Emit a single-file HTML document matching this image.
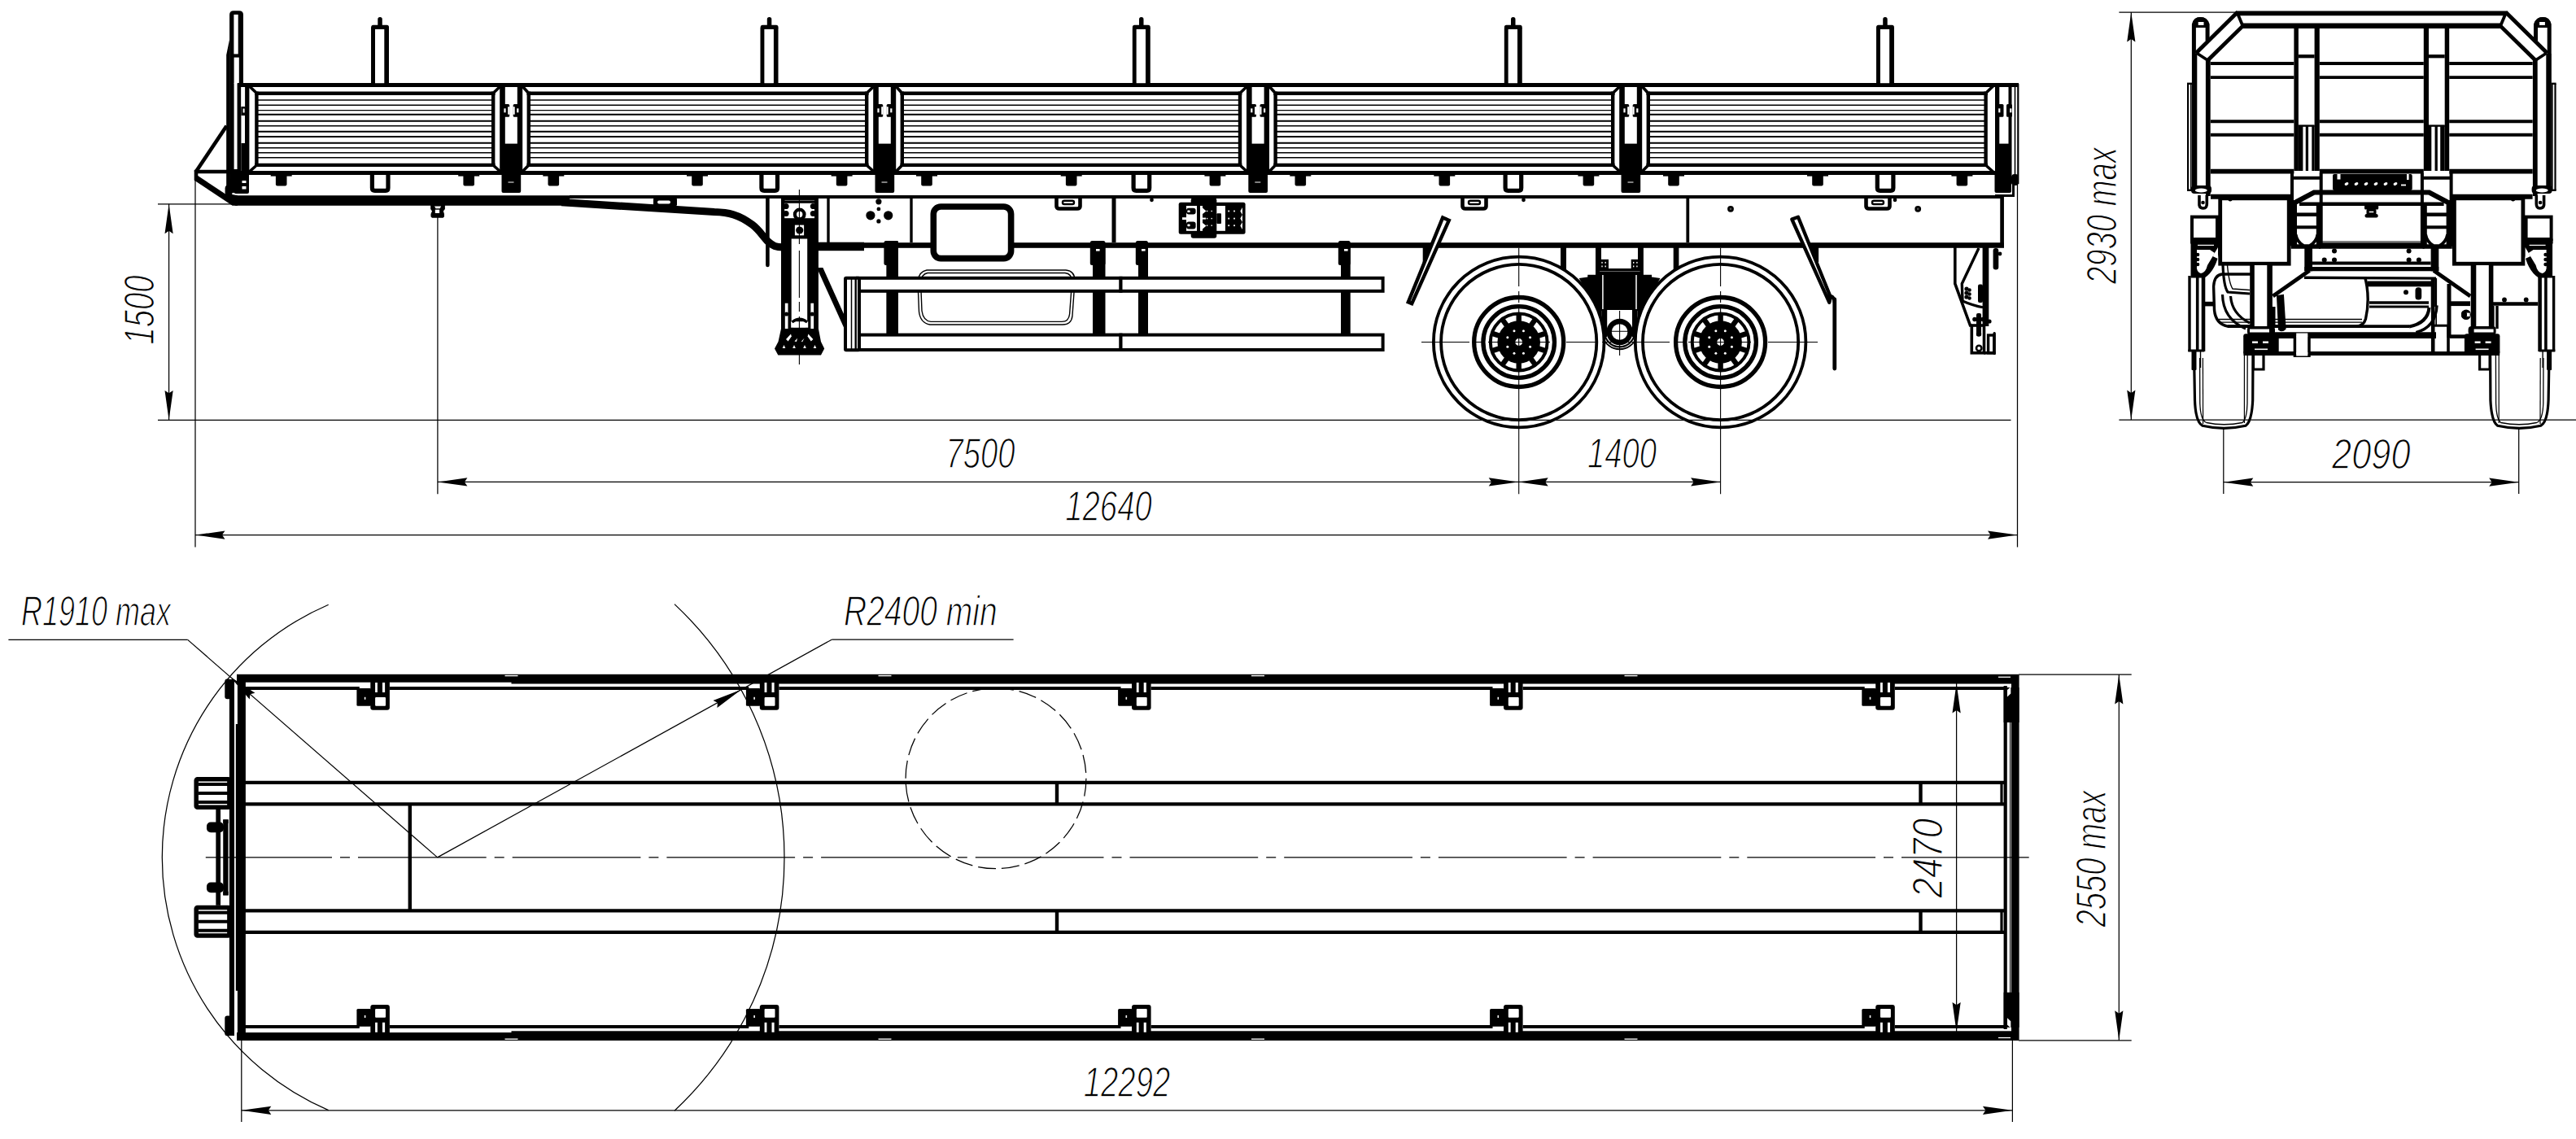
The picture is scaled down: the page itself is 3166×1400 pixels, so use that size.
<!DOCTYPE html>
<html><head><meta charset="utf-8"><title>Semi-trailer drawing</title>
<style>
html,body{margin:0;padding:0;background:#fff;}
body{width:3166px;height:1400px;overflow:hidden;}
svg{display:block;}
svg text{font-family:"Liberation Sans",sans-serif;font-style:italic;fill:#000;stroke:#fff;stroke-width:1.3px;}
</style></head><body>
<svg width="3166" height="1400" viewBox="0 0 3166 1400" fill="none" stroke="#000" stroke-linecap="butt" stroke-linejoin="miter">
<rect x="0" y="0" width="3166" height="1400" fill="#fff" stroke="none"/>
<g id="side">
<path d="M282.1,237 L282.1,18 Q282.1,13.2 287,13.2 L294,13.2 Q299,13.2 299,18 L299,104 L296,104 L296,237 Z" stroke-width="0" fill="#000" stroke="none"/>
<path d="M282.1,48.5 L278.2,67.4 L278.2,237 L283,237 Z" stroke-width="0" fill="#000" stroke="none"/>
<rect x="287.4" y="17.9" width="5.3" height="48.5" fill="#fff" stroke="none"/>
<rect x="287.6" y="70.6" width="6.2" height="32" fill="#fff" stroke="none"/>
<rect x="287.6" y="102" width="4.2" height="106" fill="#fff" stroke="none"/>
<rect x="291.7" y="102.2" width="4.7" height="133.8" fill="#000" stroke="none" rx="0"/>
<rect x="301" y="104" width="5.4" height="110" fill="#000" stroke="none" rx="0"/>
<rect x="296.4" y="106.8" width="4.7" height="25" fill="#fff" stroke="none"/>
<rect x="296.4" y="131" width="4.6" height="11" fill="#000" stroke="none" rx="0"/>
<rect x="298.6" y="133.5" width="2" height="5" fill="#fff" stroke="none"/>
<rect x="296.4" y="176" width="4.6" height="38" fill="#000" stroke="none" rx="0"/>
<rect x="287.7" y="210" width="18.3" height="28" fill="#000" stroke="none" rx="2"/>
<rect x="297.5" y="222" width="5" height="3" fill="#fff" stroke="none"/>
<rect x="297.5" y="229" width="5" height="3.5" fill="#fff" stroke="none"/>
<rect x="276.6" y="227.5" width="8.9" height="13.5" fill="#000" stroke="none" rx="4"/>
<line x1="278.5" y1="154.8" x2="240.5" y2="211.5" stroke-width="4.6" />
<line x1="239" y1="211" x2="283" y2="211" stroke-width="4.6" />
<line x1="241" y1="209" x2="241" y2="221" stroke-width="4.6" />
<line x1="240.5" y1="218.5" x2="288" y2="250" stroke-width="7" />
<polygon points="277,237.5 292,240.2 292,252.8 286.5,252.8" stroke-width="0" fill="#000" stroke="none"/>
<path d="M284,240.2 L700,240.2 L700,252.8 L289,252.8 Z" stroke-width="0" fill="#000" stroke="none"/>
<line x1="700" y1="242.1" x2="2462" y2="242.1" stroke-width="4" />
<path d="M690,248.7 L878,260.5 C895,261 908,263.5 924.6,276.2 C933,282.5 938,291 944,297 C950,302.5 954,303.9 962,303.9" stroke-width="9.2" fill="none" />
<line x1="292" y1="104.5" x2="2481" y2="104.5" stroke-width="4.8" />
<line x1="306" y1="212.5" x2="2452" y2="212.5" stroke-width="4.8" />
<line x1="313.1" y1="114.7" x2="608.5" y2="114.7" stroke-width="4.5" />
<line x1="313.1" y1="202.8" x2="608.5" y2="202.8" stroke-width="4.2" />
<line x1="315.4" y1="112.5" x2="315.4" y2="205" stroke-width="4.4" />
<line x1="606.2" y1="112.5" x2="606.2" y2="205" stroke-width="4.4" />
<line x1="306.5" y1="106" x2="314.4" y2="113.5" stroke-width="3.6" />
<line x1="306.5" y1="211" x2="314.4" y2="204" stroke-width="3.6" />
<line x1="615" y1="106" x2="607.2" y2="113.5" stroke-width="3.6" />
<line x1="615" y1="211" x2="607.2" y2="204" stroke-width="3.6" />
<line x1="315.4" y1="123" x2="606.2" y2="123" stroke-width="1.4" />
<line x1="315.4" y1="129.3" x2="606.2" y2="129.3" stroke-width="1.4" />
<line x1="315.4" y1="135.6" x2="606.2" y2="135.6" stroke-width="1.4" />
<line x1="315.4" y1="140.8" x2="606.2" y2="140.8" stroke-width="1.9" />
<line x1="315.4" y1="148.8" x2="606.2" y2="148.8" stroke-width="1.9" />
<line x1="315.4" y1="154.8" x2="606.2" y2="154.8" stroke-width="1.5" />
<line x1="315.4" y1="161.8" x2="606.2" y2="161.8" stroke-width="1.9" />
<line x1="315.4" y1="168" x2="606.2" y2="168" stroke-width="1.9" />
<line x1="315.4" y1="175.7" x2="606.2" y2="175.7" stroke-width="1.9" />
<line x1="315.4" y1="181.7" x2="606.2" y2="181.7" stroke-width="1.5" />
<line x1="315.4" y1="187.8" x2="606.2" y2="187.8" stroke-width="1.5" />
<line x1="315.4" y1="193.8" x2="606.2" y2="193.8" stroke-width="1.5" />
<line x1="647.5" y1="114.7" x2="1067.5" y2="114.7" stroke-width="4.5" />
<line x1="647.5" y1="202.8" x2="1067.5" y2="202.8" stroke-width="4.2" />
<line x1="649.8" y1="112.5" x2="649.8" y2="205" stroke-width="4.4" />
<line x1="1065.2" y1="112.5" x2="1065.2" y2="205" stroke-width="4.4" />
<line x1="642" y1="106" x2="648.8" y2="113.5" stroke-width="3.6" />
<line x1="642" y1="211" x2="648.8" y2="204" stroke-width="3.6" />
<line x1="1074" y1="106" x2="1066.2" y2="113.5" stroke-width="3.6" />
<line x1="1074" y1="211" x2="1066.2" y2="204" stroke-width="3.6" />
<line x1="649.8" y1="123" x2="1065.2" y2="123" stroke-width="1.4" />
<line x1="649.8" y1="129.3" x2="1065.2" y2="129.3" stroke-width="1.4" />
<line x1="649.8" y1="135.6" x2="1065.2" y2="135.6" stroke-width="1.4" />
<line x1="649.8" y1="140.8" x2="1065.2" y2="140.8" stroke-width="1.9" />
<line x1="649.8" y1="148.8" x2="1065.2" y2="148.8" stroke-width="1.9" />
<line x1="649.8" y1="154.8" x2="1065.2" y2="154.8" stroke-width="1.5" />
<line x1="649.8" y1="161.8" x2="1065.2" y2="161.8" stroke-width="1.9" />
<line x1="649.8" y1="168" x2="1065.2" y2="168" stroke-width="1.9" />
<line x1="649.8" y1="175.7" x2="1065.2" y2="175.7" stroke-width="1.9" />
<line x1="649.8" y1="181.7" x2="1065.2" y2="181.7" stroke-width="1.5" />
<line x1="649.8" y1="187.8" x2="1065.2" y2="187.8" stroke-width="1.5" />
<line x1="649.8" y1="193.8" x2="1065.2" y2="193.8" stroke-width="1.5" />
<line x1="1106.5" y1="114.7" x2="1526.3" y2="114.7" stroke-width="4.5" />
<line x1="1106.5" y1="202.8" x2="1526.3" y2="202.8" stroke-width="4.2" />
<line x1="1108.8" y1="112.5" x2="1108.8" y2="205" stroke-width="4.4" />
<line x1="1524" y1="112.5" x2="1524" y2="205" stroke-width="4.4" />
<line x1="1101" y1="106" x2="1107.8" y2="113.5" stroke-width="3.6" />
<line x1="1101" y1="211" x2="1107.8" y2="204" stroke-width="3.6" />
<line x1="1532.8" y1="106" x2="1525" y2="113.5" stroke-width="3.6" />
<line x1="1532.8" y1="211" x2="1525" y2="204" stroke-width="3.6" />
<line x1="1108.8" y1="123" x2="1524" y2="123" stroke-width="1.4" />
<line x1="1108.8" y1="129.3" x2="1524" y2="129.3" stroke-width="1.4" />
<line x1="1108.8" y1="135.6" x2="1524" y2="135.6" stroke-width="1.4" />
<line x1="1108.8" y1="140.8" x2="1524" y2="140.8" stroke-width="1.9" />
<line x1="1108.8" y1="148.8" x2="1524" y2="148.8" stroke-width="1.9" />
<line x1="1108.8" y1="154.8" x2="1524" y2="154.8" stroke-width="1.5" />
<line x1="1108.8" y1="161.8" x2="1524" y2="161.8" stroke-width="1.9" />
<line x1="1108.8" y1="168" x2="1524" y2="168" stroke-width="1.9" />
<line x1="1108.8" y1="175.7" x2="1524" y2="175.7" stroke-width="1.9" />
<line x1="1108.8" y1="181.7" x2="1524" y2="181.7" stroke-width="1.5" />
<line x1="1108.8" y1="187.8" x2="1524" y2="187.8" stroke-width="1.5" />
<line x1="1108.8" y1="193.8" x2="1524" y2="193.8" stroke-width="1.5" />
<line x1="1565.3" y1="114.7" x2="1984.5" y2="114.7" stroke-width="4.5" />
<line x1="1565.3" y1="202.8" x2="1984.5" y2="202.8" stroke-width="4.2" />
<line x1="1567.6" y1="112.5" x2="1567.6" y2="205" stroke-width="4.4" />
<line x1="1982.2" y1="112.5" x2="1982.2" y2="205" stroke-width="4.4" />
<line x1="1559.8" y1="106" x2="1566.6" y2="113.5" stroke-width="3.6" />
<line x1="1559.8" y1="211" x2="1566.6" y2="204" stroke-width="3.6" />
<line x1="1991" y1="106" x2="1983.2" y2="113.5" stroke-width="3.6" />
<line x1="1991" y1="211" x2="1983.2" y2="204" stroke-width="3.6" />
<line x1="1567.6" y1="123" x2="1982.2" y2="123" stroke-width="1.4" />
<line x1="1567.6" y1="129.3" x2="1982.2" y2="129.3" stroke-width="1.4" />
<line x1="1567.6" y1="135.6" x2="1982.2" y2="135.6" stroke-width="1.4" />
<line x1="1567.6" y1="140.8" x2="1982.2" y2="140.8" stroke-width="1.9" />
<line x1="1567.6" y1="148.8" x2="1982.2" y2="148.8" stroke-width="1.9" />
<line x1="1567.6" y1="154.8" x2="1982.2" y2="154.8" stroke-width="1.5" />
<line x1="1567.6" y1="161.8" x2="1982.2" y2="161.8" stroke-width="1.9" />
<line x1="1567.6" y1="168" x2="1982.2" y2="168" stroke-width="1.9" />
<line x1="1567.6" y1="175.7" x2="1982.2" y2="175.7" stroke-width="1.9" />
<line x1="1567.6" y1="181.7" x2="1982.2" y2="181.7" stroke-width="1.5" />
<line x1="1567.6" y1="187.8" x2="1982.2" y2="187.8" stroke-width="1.5" />
<line x1="1567.6" y1="193.8" x2="1982.2" y2="193.8" stroke-width="1.5" />
<line x1="2023.5" y1="114.7" x2="2442.9" y2="114.7" stroke-width="4.5" />
<line x1="2023.5" y1="202.8" x2="2442.9" y2="202.8" stroke-width="4.2" />
<line x1="2025.8" y1="112.5" x2="2025.8" y2="205" stroke-width="4.4" />
<line x1="2440.6" y1="112.5" x2="2440.6" y2="205" stroke-width="4.4" />
<line x1="2018" y1="106" x2="2024.8" y2="113.5" stroke-width="3.6" />
<line x1="2018" y1="211" x2="2024.8" y2="204" stroke-width="3.6" />
<line x1="2449.5" y1="106" x2="2441.6" y2="113.5" stroke-width="3.6" />
<line x1="2449.5" y1="211" x2="2441.6" y2="204" stroke-width="3.6" />
<line x1="2025.8" y1="123" x2="2440.6" y2="123" stroke-width="1.4" />
<line x1="2025.8" y1="129.3" x2="2440.6" y2="129.3" stroke-width="1.4" />
<line x1="2025.8" y1="135.6" x2="2440.6" y2="135.6" stroke-width="1.4" />
<line x1="2025.8" y1="140.8" x2="2440.6" y2="140.8" stroke-width="1.9" />
<line x1="2025.8" y1="148.8" x2="2440.6" y2="148.8" stroke-width="1.9" />
<line x1="2025.8" y1="154.8" x2="2440.6" y2="154.8" stroke-width="1.5" />
<line x1="2025.8" y1="161.8" x2="2440.6" y2="161.8" stroke-width="1.9" />
<line x1="2025.8" y1="168" x2="2440.6" y2="168" stroke-width="1.9" />
<line x1="2025.8" y1="175.7" x2="2440.6" y2="175.7" stroke-width="1.9" />
<line x1="2025.8" y1="181.7" x2="2440.6" y2="181.7" stroke-width="1.5" />
<line x1="2025.8" y1="187.8" x2="2440.6" y2="187.8" stroke-width="1.5" />
<line x1="2025.8" y1="193.8" x2="2440.6" y2="193.8" stroke-width="1.5" />
<rect x="614.2" y="104" width="6.6" height="110" fill="#000" stroke="none" rx="0"/>
<rect x="635.8" y="104" width="6.4" height="110" fill="#000" stroke="none" rx="0"/>
<rect x="618.2" y="128" width="8" height="15.7" fill="#000" stroke="none" rx="1.5"/>
<rect x="630.7" y="128" width="8.2" height="15.7" fill="#000" stroke="none" rx="1.5"/>
<rect x="619.4" y="133.3" width="2.2" height="5" fill="#fff" stroke="none"/>
<rect x="635.2" y="133.3" width="2.2" height="5" fill="#fff" stroke="none"/>
<rect x="624.2" y="131.2" width="2.2" height="9.5" fill="#fff" stroke="none"/>
<rect x="630.5" y="131.2" width="2.2" height="9.5" fill="#fff" stroke="none"/>
<rect x="617.2" y="176.6" width="22" height="37.4" fill="#000" stroke="none" rx="0"/>
<rect x="616.5" y="212" width="23.7" height="25" fill="#000" stroke="none" rx="2"/>
<rect x="624.5" y="223.5" width="7" height="1" fill="#fff" stroke="none"/>
<rect x="1073.2" y="104" width="6.6" height="110" fill="#000" stroke="none" rx="0"/>
<rect x="1094.8" y="104" width="6.4" height="110" fill="#000" stroke="none" rx="0"/>
<rect x="1077.2" y="128" width="8" height="15.7" fill="#000" stroke="none" rx="1.5"/>
<rect x="1089.7" y="128" width="8.2" height="15.7" fill="#000" stroke="none" rx="1.5"/>
<rect x="1078.4" y="133.3" width="2.2" height="5" fill="#fff" stroke="none"/>
<rect x="1094.2" y="133.3" width="2.2" height="5" fill="#fff" stroke="none"/>
<rect x="1083.2" y="131.2" width="2.2" height="9.5" fill="#fff" stroke="none"/>
<rect x="1089.5" y="131.2" width="2.2" height="9.5" fill="#fff" stroke="none"/>
<rect x="1076.2" y="176.6" width="22" height="37.4" fill="#000" stroke="none" rx="0"/>
<rect x="1075.5" y="212" width="23.7" height="25" fill="#000" stroke="none" rx="2"/>
<rect x="1083.5" y="223.5" width="7" height="1" fill="#fff" stroke="none"/>
<rect x="1532" y="104" width="6.6" height="110" fill="#000" stroke="none" rx="0"/>
<rect x="1553.6" y="104" width="6.4" height="110" fill="#000" stroke="none" rx="0"/>
<rect x="1536" y="128" width="8" height="15.7" fill="#000" stroke="none" rx="1.5"/>
<rect x="1548.5" y="128" width="8.2" height="15.7" fill="#000" stroke="none" rx="1.5"/>
<rect x="1537.2" y="133.3" width="2.2" height="5" fill="#fff" stroke="none"/>
<rect x="1553" y="133.3" width="2.2" height="5" fill="#fff" stroke="none"/>
<rect x="1542" y="131.2" width="2.2" height="9.5" fill="#fff" stroke="none"/>
<rect x="1548.3" y="131.2" width="2.2" height="9.5" fill="#fff" stroke="none"/>
<rect x="1535" y="176.6" width="22" height="37.4" fill="#000" stroke="none" rx="0"/>
<rect x="1534.3" y="212" width="23.7" height="25" fill="#000" stroke="none" rx="2"/>
<rect x="1542.3" y="223.5" width="7" height="1" fill="#fff" stroke="none"/>
<rect x="1990.2" y="104" width="6.6" height="110" fill="#000" stroke="none" rx="0"/>
<rect x="2011.8" y="104" width="6.4" height="110" fill="#000" stroke="none" rx="0"/>
<rect x="1994.2" y="128" width="8" height="15.7" fill="#000" stroke="none" rx="1.5"/>
<rect x="2006.7" y="128" width="8.2" height="15.7" fill="#000" stroke="none" rx="1.5"/>
<rect x="1995.4" y="133.3" width="2.2" height="5" fill="#fff" stroke="none"/>
<rect x="2011.2" y="133.3" width="2.2" height="5" fill="#fff" stroke="none"/>
<rect x="2000.2" y="131.2" width="2.2" height="9.5" fill="#fff" stroke="none"/>
<rect x="2006.5" y="131.2" width="2.2" height="9.5" fill="#fff" stroke="none"/>
<rect x="1993.2" y="176.6" width="22" height="37.4" fill="#000" stroke="none" rx="0"/>
<rect x="1992.5" y="212" width="23.7" height="25" fill="#000" stroke="none" rx="2"/>
<rect x="2000.5" y="223.5" width="7" height="1" fill="#fff" stroke="none"/>
<rect x="2452" y="104" width="5.3" height="110" fill="#000" stroke="none" rx="0"/>
<rect x="2468.5" y="104" width="4" height="122" fill="#000" stroke="none" rx="0"/>
<line x1="2476.5" y1="104" x2="2476.5" y2="226" stroke-width="1.6" />
<line x1="2480.3" y1="103" x2="2480.3" y2="226" stroke-width="2.2" />
<rect x="2455" y="128" width="7.5" height="15.7" fill="#000" stroke="none" rx="1.5"/>
<rect x="2466" y="128" width="7" height="15.7" fill="#000" stroke="none" rx="1.5"/>
<rect x="2456.2" y="133.3" width="2.2" height="5" fill="#fff" stroke="none"/>
<rect x="2470.2" y="133.3" width="2.2" height="5" fill="#fff" stroke="none"/>
<rect x="2455" y="176.6" width="15" height="37.4" fill="#000" stroke="none" rx="0"/>
<rect x="2451.5" y="212" width="20.5" height="25" fill="#000" stroke="none" rx="2"/>
<rect x="2472" y="214" width="9" height="14" fill="#000" stroke="none" rx="4"/>
<line x1="2452" y1="240.5" x2="2476" y2="240.5" stroke-width="3" />
<line x1="2474.5" y1="226" x2="2474.5" y2="242" stroke-width="3" />
<path d="M458.6,103 L458.6,35 Q458.6,33.3 460.7,33.3 L473,33.3 Q475.1,33.3 475.1,35 L475.1,103" stroke-width="4.8" fill="none" />
<rect x="456.2" y="30.8" width="21.8" height="5.2" fill="#000" stroke="none" rx="2.5"/>
<rect x="456.2" y="34" width="4.8" height="69" fill="#000" stroke="none" rx="0"/>
<rect x="472.2" y="34" width="5.8" height="69" fill="#000" stroke="none" rx="0"/>
<rect x="461" y="35.9" width="11.2" height="66.3" fill="#fff" stroke="none"/>
<rect x="464.3" y="21.1" width="5.5" height="11.9" fill="#000" stroke="none" rx="2.7"/>
<path d="M457.4,214 L457.4,231 Q457.4,234.3 460.7,234.3 L474,234.3 Q477,234.3 477,231 L477,214" stroke-width="5.2" fill="none" />
<path d="M937.1,103 L937.1,35 Q937.1,33.3 939.2,33.3 L951.5,33.3 Q953.6,33.3 953.6,35 L953.6,103" stroke-width="4.8" fill="none" />
<rect x="934.7" y="30.8" width="21.8" height="5.2" fill="#000" stroke="none" rx="2.5"/>
<rect x="934.7" y="34" width="4.8" height="69" fill="#000" stroke="none" rx="0"/>
<rect x="950.7" y="34" width="5.8" height="69" fill="#000" stroke="none" rx="0"/>
<rect x="939.5" y="35.9" width="11.2" height="66.3" fill="#fff" stroke="none"/>
<rect x="942.8" y="21.1" width="5.5" height="11.9" fill="#000" stroke="none" rx="2.7"/>
<path d="M935.9,214 L935.9,231 Q935.9,234.3 939.2,234.3 L952.5,234.3 Q955.5,234.3 955.5,231 L955.5,214" stroke-width="5.2" fill="none" />
<path d="M1394.3,103 L1394.3,35 Q1394.3,33.3 1396.4,33.3 L1408.7,33.3 Q1410.8,33.3 1410.8,35 L1410.8,103" stroke-width="4.8" fill="none" />
<rect x="1391.9" y="30.8" width="21.8" height="5.2" fill="#000" stroke="none" rx="2.5"/>
<rect x="1391.9" y="34" width="4.8" height="69" fill="#000" stroke="none" rx="0"/>
<rect x="1407.9" y="34" width="5.8" height="69" fill="#000" stroke="none" rx="0"/>
<rect x="1396.7" y="35.9" width="11.2" height="66.3" fill="#fff" stroke="none"/>
<rect x="1400" y="21.1" width="5.5" height="11.9" fill="#000" stroke="none" rx="2.7"/>
<path d="M1393.1,214 L1393.1,231 Q1393.1,234.3 1396.4,234.3 L1409.7,234.3 Q1412.7,234.3 1412.7,231 L1412.7,214" stroke-width="5.2" fill="none" />
<path d="M1851.3,103 L1851.3,35 Q1851.3,33.3 1853.4,33.3 L1865.7,33.3 Q1867.8,33.3 1867.8,35 L1867.8,103" stroke-width="4.8" fill="none" />
<rect x="1848.9" y="30.8" width="21.8" height="5.2" fill="#000" stroke="none" rx="2.5"/>
<rect x="1848.9" y="34" width="4.8" height="69" fill="#000" stroke="none" rx="0"/>
<rect x="1864.9" y="34" width="5.8" height="69" fill="#000" stroke="none" rx="0"/>
<rect x="1853.7" y="35.9" width="11.2" height="66.3" fill="#fff" stroke="none"/>
<rect x="1857" y="21.1" width="5.5" height="11.9" fill="#000" stroke="none" rx="2.7"/>
<path d="M1850.1,214 L1850.1,231 Q1850.1,234.3 1853.4,234.3 L1866.7,234.3 Q1869.7,234.3 1869.7,231 L1869.7,214" stroke-width="5.2" fill="none" />
<path d="M2308.5,103 L2308.5,35 Q2308.5,33.3 2310.6,33.3 L2322.9,33.3 Q2325,33.3 2325,35 L2325,103" stroke-width="4.8" fill="none" />
<rect x="2306.1" y="30.8" width="21.8" height="5.2" fill="#000" stroke="none" rx="2.5"/>
<rect x="2306.1" y="34" width="4.8" height="69" fill="#000" stroke="none" rx="0"/>
<rect x="2322.1" y="34" width="5.8" height="69" fill="#000" stroke="none" rx="0"/>
<rect x="2310.9" y="35.9" width="11.2" height="66.3" fill="#fff" stroke="none"/>
<rect x="2314.2" y="21.1" width="5.5" height="11.9" fill="#000" stroke="none" rx="2.7"/>
<path d="M2307.3,214 L2307.3,231 Q2307.3,234.3 2310.6,234.3 L2323.9,234.3 Q2326.9,234.3 2326.9,231 L2326.9,214" stroke-width="5.2" fill="none" />
<rect x="338.9" y="214" width="13.6" height="14.6" fill="#000" stroke="none" rx="2"/>
<line x1="332.7" y1="215.8" x2="358.7" y2="215.8" stroke-width="1.6" />
<rect x="569.4" y="214" width="13.6" height="14.6" fill="#000" stroke="none" rx="2"/>
<line x1="563.2" y1="215.8" x2="589.2" y2="215.8" stroke-width="1.6" />
<rect x="673.5" y="214" width="13.6" height="14.6" fill="#000" stroke="none" rx="2"/>
<line x1="667.3" y1="215.8" x2="693.3" y2="215.8" stroke-width="1.6" />
<rect x="850.2" y="214" width="13.6" height="14.6" fill="#000" stroke="none" rx="2"/>
<line x1="844" y1="215.8" x2="870" y2="215.8" stroke-width="1.6" />
<rect x="1027.8" y="214" width="13.6" height="14.6" fill="#000" stroke="none" rx="2"/>
<line x1="1021.6" y1="215.8" x2="1047.6" y2="215.8" stroke-width="1.6" />
<rect x="1132.2" y="214" width="13.6" height="14.6" fill="#000" stroke="none" rx="2"/>
<line x1="1126" y1="215.8" x2="1152" y2="215.8" stroke-width="1.6" />
<rect x="1309.9" y="214" width="13.6" height="14.6" fill="#000" stroke="none" rx="2"/>
<line x1="1303.7" y1="215.8" x2="1329.7" y2="215.8" stroke-width="1.6" />
<rect x="1486.6" y="214" width="13.6" height="14.6" fill="#000" stroke="none" rx="2"/>
<line x1="1480.4" y1="215.8" x2="1506.4" y2="215.8" stroke-width="1.6" />
<rect x="1591.5" y="214" width="13.6" height="14.6" fill="#000" stroke="none" rx="2"/>
<line x1="1585.3" y1="215.8" x2="1611.3" y2="215.8" stroke-width="1.6" />
<rect x="1768.5" y="214" width="13.6" height="14.6" fill="#000" stroke="none" rx="2"/>
<line x1="1762.3" y1="215.8" x2="1788.3" y2="215.8" stroke-width="1.6" />
<rect x="1945.6" y="214" width="13.6" height="14.6" fill="#000" stroke="none" rx="2"/>
<line x1="1939.4" y1="215.8" x2="1965.4" y2="215.8" stroke-width="1.6" />
<rect x="2050.2" y="214" width="13.6" height="14.6" fill="#000" stroke="none" rx="2"/>
<line x1="2044" y1="215.8" x2="2070" y2="215.8" stroke-width="1.6" />
<rect x="2227.2" y="214" width="13.6" height="14.6" fill="#000" stroke="none" rx="2"/>
<line x1="2221" y1="215.8" x2="2247" y2="215.8" stroke-width="1.6" />
<rect x="2404.6" y="214" width="13.6" height="14.6" fill="#000" stroke="none" rx="2"/>
<line x1="2398.4" y1="215.8" x2="2424.4" y2="215.8" stroke-width="1.6" />
</g>
<g id="side-lower">
<line x1="943.4" y1="244" x2="943.4" y2="326" stroke-width="4.6" stroke-linecap="round"/>
<line x1="1018" y1="244" x2="1018" y2="298" stroke-width="3.4" />
<line x1="1120" y1="244" x2="1120" y2="298" stroke-width="3.4" />
<line x1="1369" y1="244" x2="1369" y2="298" stroke-width="5" />
<line x1="2074.3" y1="244" x2="2074.3" y2="298" stroke-width="3.8" />
<line x1="2460.6" y1="240" x2="2460.6" y2="304" stroke-width="4.7" />
<rect x="1005" y="297.7" width="57" height="10.5" fill="#000" stroke="none" rx="0"/>
<rect x="1062" y="298.2" width="1401" height="6.6" fill="#000" stroke="none" rx="0"/>
<circle cx="1079.9" cy="256.9" r="2.4" stroke-width="0" fill="#000" stroke="none"/>
<circle cx="1079.9" cy="271.9" r="2.6" stroke-width="0" fill="#000" stroke="none"/>
<circle cx="1079.9" cy="247.8" r="3.6" stroke-width="0" fill="#000" stroke="none"/>
<circle cx="1069.9" cy="264.8" r="5.6" stroke-width="0" fill="#000" stroke="none"/>
<circle cx="1091.7" cy="264.8" r="5.6" stroke-width="0" fill="#000" stroke="none"/>
<polygon points="529.2,252 546.9,252 546.9,257 544.9,259.5 546,263 546,266.2 544.5,267.7 531,267.7 529.5,266.2 529.5,263 531,259.5 529.2,257" stroke-width="0" fill="#000" stroke="none"/>
<polygon points="534,253.6 542.2,253.6 540.6,256.2 535.6,256.2" stroke-width="0" fill="#fff" stroke="none"/>
<rect x="534.8" y="257.7" width="5.3" height="4.3" fill="#fff" stroke="none"/>
<rect x="803" y="243" width="29" height="10.5" fill="#000" stroke="none" rx="2"/>
<rect x="808" y="246.6" width="16" height="4" fill="#fff" stroke="none" rx="2"/>
<path d="M1298.5,244 L1298.5,253 Q1298.5,256.5 1302,256.5 L1324,256.5 Q1327.5,256.5 1327.5,253 L1327.5,244" stroke-width="4.6" fill="#fff" />
<rect x="1306" y="246.8" width="14" height="4.2" rx="2" fill="#fff" stroke="#000" stroke-width="2.4"/>
<path d="M1797.5,244 L1797.5,253 Q1797.5,256.5 1801,256.5 L1823,256.5 Q1826.5,256.5 1826.5,253 L1826.5,244" stroke-width="4.6" fill="#fff" />
<rect x="1805" y="246.8" width="14" height="4.2" rx="2" fill="#fff" stroke="#000" stroke-width="2.4"/>
<path d="M2293.5,244 L2293.5,253 Q2293.5,256.5 2297,256.5 L2319,256.5 Q2322.5,256.5 2322.5,253 L2322.5,244" stroke-width="4.6" fill="#fff" />
<rect x="2301" y="246.8" width="14" height="4.2" rx="2" fill="#fff" stroke="#000" stroke-width="2.4"/>
<circle cx="1415.5" cy="245.8" r="2.4" stroke-width="0" fill="#000" stroke="none"/>
<circle cx="1872.5" cy="245.8" r="2.4" stroke-width="0" fill="#000" stroke="none"/>
<circle cx="2329" cy="245.8" r="2.4" stroke-width="0" fill="#000" stroke="none"/>
<circle cx="2127" cy="256.8" r="2.6" stroke-width="2.6" fill="#555" />
<circle cx="2357.2" cy="256.8" r="2.6" stroke-width="2.6" fill="#555" />
<rect x="960" y="244" width="45.9" height="166" fill="#000" stroke="none" rx="0"/>
<rect x="964.2" y="249.8" width="36.8" height="18.4" fill="#fff" stroke="none"/>
<line x1="964.5" y1="246.4" x2="1001" y2="246.4" stroke-width="0.9" stroke="#777"/>
<circle cx="966" cy="253.5" r="3.6" stroke-width="0" fill="#000" stroke="none"/>
<circle cx="999.4" cy="253.5" r="3.6" stroke-width="0" fill="#000" stroke="none"/>
<circle cx="966" cy="262.5" r="3.6" stroke-width="0" fill="#000" stroke="none"/>
<circle cx="999.4" cy="262.5" r="3.6" stroke-width="0" fill="#000" stroke="none"/>
<circle cx="982.7" cy="263.5" r="5.8" stroke-width="4.2" fill="#fff" />
<rect x="976.9" y="276.6" width="11.2" height="12.7" fill="#fff" stroke="none"/>
<circle cx="982.7" cy="283" r="4.6" stroke-width="0" fill="#000" stroke="none"/>
<rect x="972.7" y="293.5" width="19.5" height="110" fill="#fff" stroke="none"/>
<rect x="964.8" y="372.7" width="3.7" height="35" fill="#fff" stroke="none"/>
<circle cx="966.6" cy="386" r="2.6" stroke-width="0" fill="#000" stroke="none"/>
<rect x="996.4" y="372.7" width="3.7" height="35" fill="#fff" stroke="none"/>
<circle cx="998.2" cy="386" r="2.6" stroke-width="0" fill="#000" stroke="none"/>
<path d="M972,404 Q982.7,386 993.4,404 Z" stroke-width="3.4" fill="none" />
<path d="M960,404 L1005.9,404 L1009,420 L1013.2,428.5 L1009,436.4 L956.3,436.4 L952,428.5 L956.5,420 Z" stroke-width="0" fill="#000" stroke="none"/>
<rect x="972.2" y="395.2" width="21" height="7.5" fill="#fff" stroke="none"/>
<path d="M973.5,396 Q982.7,388.5 992,396" stroke-width="3.2" fill="none" />
<polygon points="966,417 972,410.5 972.8,413.5 968.6,419.5" stroke-width="0" fill="#fff" stroke="none"/>
<polygon points="999.4,417 993.4,410.5 992.6,413.5 996.8,419.5" stroke-width="0" fill="#fff" stroke="none"/>
<polygon points="961.7,428 965.3,428 963.5,424" stroke-width="0" fill="#fff" stroke="none"/>
<polygon points="974.2,428 977.8,428 976,424" stroke-width="0" fill="#fff" stroke="none"/>
<polygon points="987.2,428 990.8,428 989,424" stroke-width="0" fill="#fff" stroke="none"/>
<polygon points="999.7,428 1003.3,428 1001.5,424" stroke-width="0" fill="#fff" stroke="none"/>
<polygon points="976.5,419.5 980,415.8 979,420" stroke-width="0" fill="#fff" stroke="none"/>
<polygon points="985,419.5 988.5,415.8 986,420.5" stroke-width="0" fill="#fff" stroke="none"/>
<line x1="982.4" y1="233" x2="982.4" y2="300" stroke-width="1.1" />
<line x1="982.4" y1="308" x2="982.4" y2="366" stroke-width="1.1" />
<line x1="982.4" y1="371" x2="982.4" y2="383" stroke-width="1.1" />
<line x1="982.4" y1="389" x2="982.4" y2="403" stroke-width="1.1" />
<line x1="982.4" y1="436" x2="982.4" y2="448" stroke-width="1.1" />
<path d="M1003.8,329 L1011.4,329 L1037.5,387 L1037.5,403.5 Z" stroke-width="0" fill="#000" stroke="none"/>
<rect x="1147.3" y="254" width="95.3" height="63.6" stroke-width="7.6" fill="#fff" rx="9" />
<path d="M1139,332 L1310,332 Q1321,333 1321,345 L1318,388 Q1317,399 1306,399 L1143,399 Q1131,397 1129.5,383 L1128,346 Q1129,334 1139,332 Z" stroke-width="1.4" fill="#fff" />
<path d="M1140,335.5 L1309,335.5 Q1317.5,336.5 1317.5,346 L1314.6,386 Q1313.6,395.4 1305,395.4 L1144,395.4 Q1134.5,394 1133,382 L1131.6,347 Q1132.4,337 1140,335.5 Z" stroke-width="1.4" fill="none" />
<rect x="1089.6" y="300" width="14.4" height="111" fill="#000" stroke="none" rx="0"/>
<rect x="1086.4" y="296" width="17.6" height="30" fill="#000" stroke="none" rx="2.5"/>
<rect x="1093.6" y="306" width="4.6" height="2.6" fill="#fff" stroke="none"/>
<rect x="1343" y="300" width="15.5" height="111" fill="#000" stroke="none" rx="0"/>
<rect x="1339.8" y="296" width="18.7" height="30" fill="#000" stroke="none" rx="2.5"/>
<rect x="1347" y="306" width="4.6" height="2.6" fill="#fff" stroke="none"/>
<rect x="1399" y="300" width="12" height="111" fill="#000" stroke="none" rx="0"/>
<rect x="1395.8" y="296" width="15.2" height="30" fill="#000" stroke="none" rx="2.5"/>
<rect x="1403" y="306" width="4.6" height="2.6" fill="#fff" stroke="none"/>
<rect x="1648" y="300" width="11.7" height="111" fill="#000" stroke="none" rx="0"/>
<rect x="1644.8" y="296" width="14.9" height="30" fill="#000" stroke="none" rx="2.5"/>
<rect x="1652" y="306" width="4.6" height="2.6" fill="#fff" stroke="none"/>
<rect x="1089.6" y="296.4" width="14.4" height="114.6" fill="#000" stroke="none" rx="0"/>
<rect x="1054" y="341.8" width="323.5" height="16" fill="#fff" stroke="#000" stroke-width="4"/>
<rect x="1377.5" y="341.8" width="322.1" height="16" fill="#fff" stroke="#000" stroke-width="4"/>
<rect x="1054" y="411.6" width="323.5" height="18.4" fill="#fff" stroke="#000" stroke-width="4"/>
<rect x="1377.5" y="411.6" width="322.1" height="18.4" fill="#fff" stroke="#000" stroke-width="4"/>
<rect x="1039" y="341.8" width="17" height="88.5" fill="#fff" stroke="#000" stroke-width="4" rx="1"/>
<line x1="1046.5" y1="342" x2="1046.5" y2="430" stroke-width="1.5" />
<line x1="1051.7" y1="342" x2="1051.7" y2="430" stroke-width="2.4" />
<rect x="1448.7" y="248.8" width="81.9" height="39" fill="#000" stroke="none" rx="2.5"/>
<rect x="1463.7" y="243.3" width="31.6" height="49.5" fill="#000" stroke="none" rx="3"/>
<rect x="1458" y="253" width="13" height="30.8" fill="#fff" stroke="none" rx="0"/>
<rect x="1458" y="255.8" width="11.6" height="7.6" fill="#000" stroke="none" rx="3"/>
<rect x="1458" y="272.6" width="11.6" height="8.8" fill="#000" stroke="none" rx="3"/>
<rect x="1459.4" y="258.4" width="3.2" height="2.6" fill="#fff" stroke="none" rx="0.6"/>
<rect x="1459.4" y="275.6" width="3.2" height="2.6" fill="#fff" stroke="none" rx="0.6"/>
<rect x="1453" y="267.2" width="16" height="2.9" fill="#fff" stroke="none" rx="0"/>
<rect x="1475" y="253" width="3" height="30.8" fill="#fff" stroke="none" rx="0"/>
<polygon points="1478,255.5 1482.5,259.5 1478,263" stroke-width="0" fill="#fff" stroke="none"/>
<polygon points="1478,274 1482.5,277.5 1478,281.5" stroke-width="0" fill="#fff" stroke="none"/>
<rect x="1475" y="267.6" width="7" height="2" fill="#fff" stroke="none" rx="0"/>
<rect x="1482.9" y="258.8" width="1.4" height="1.4" fill="#fff" stroke="none" rx="0"/>
<rect x="1482.9" y="267.9" width="1.4" height="1.4" fill="#fff" stroke="none" rx="0"/>
<rect x="1482.9" y="276.5" width="1.4" height="1.4" fill="#fff" stroke="none" rx="0"/>
<rect x="1488.5" y="258.8" width="1.4" height="1.4" fill="#fff" stroke="none" rx="0"/>
<rect x="1488.5" y="267.9" width="1.4" height="1.4" fill="#fff" stroke="none" rx="0"/>
<rect x="1488.5" y="276.5" width="1.4" height="1.4" fill="#fff" stroke="none" rx="0"/>
<rect x="1495.3" y="253" width="10.6" height="30.8" fill="#fff" stroke="none" rx="0"/>
<rect x="1495.3" y="262.2" width="5.7" height="12.7" fill="#000" stroke="none" rx="1"/>
<rect x="1509.3" y="258.6" width="1.8" height="1.8" fill="#fff" stroke="none" rx="0"/>
<rect x="1509.3" y="267.7" width="1.8" height="1.8" fill="#fff" stroke="none" rx="0"/>
<rect x="1509.3" y="276.3" width="1.8" height="1.8" fill="#fff" stroke="none" rx="0"/>
<rect x="1516.1" y="258.6" width="1.8" height="1.8" fill="#fff" stroke="none" rx="0"/>
<rect x="1516.1" y="267.7" width="1.8" height="1.8" fill="#fff" stroke="none" rx="0"/>
<rect x="1516.1" y="276.3" width="1.8" height="1.8" fill="#fff" stroke="none" rx="0"/>
<polygon points="1527,255 1524.3,259.5 1527,264" stroke-width="0" fill="#fff" stroke="none"/>
<polygon points="1527,264 1524.3,268.5 1527,273" stroke-width="0" fill="#fff" stroke="none"/>
<polygon points="1527,273 1524.3,277.5 1527,282" stroke-width="0" fill="#fff" stroke="none"/>
<polygon points="1748.7,304 1758,304 1750,323 1748.7,323" stroke-width="0" fill="#000" stroke="none"/>
<polygon points="1773.2,267.5 1780.8,270.8 1735.2,373.2 1730.8,371.4" stroke-width="4.4" fill="#fff" />
<polygon points="2226.5,304 2235.1,304 2235.1,322 2234,322" stroke-width="0" fill="#000" stroke="none"/>
<polygon points="2202.3,269.5 2210,266.7 2249.8,365 2248.3,371.8" stroke-width="4.3" fill="#fff" stroke-linejoin="round"/>
<line x1="2254.8" y1="368" x2="2254.8" y2="453" stroke-width="4.8" stroke-linecap="round"/>
<path d="M2250.5,364 Q2254.5,366 2254.8,372" stroke-width="4.2" fill="none" />
<rect x="1918" y="304" width="7" height="41" fill="#000" stroke="none" rx="0"/>
<rect x="1961" y="304" width="7" height="41" fill="#000" stroke="none" rx="0"/>
<rect x="2013" y="304" width="6.9" height="41" fill="#000" stroke="none" rx="0"/>
<rect x="2056.7" y="304" width="6.7" height="41" fill="#000" stroke="none" rx="0"/>
<rect x="1966" y="318.8" width="11" height="12.2" fill="#000" stroke="none" rx="0"/>
<rect x="2004.7" y="318.8" width="10.9" height="12.2" fill="#000" stroke="none" rx="0"/>
<rect x="1968.3" y="321.9" width="1.4" height="1.8" fill="#fff" stroke="none"/>
<rect x="1972.5" y="321.9" width="1.4" height="1.8" fill="#fff" stroke="none"/>
<rect x="1968.3" y="326.5" width="1.4" height="1.8" fill="#fff" stroke="none"/>
<rect x="1972.5" y="326.5" width="1.4" height="1.8" fill="#fff" stroke="none"/>
<rect x="2007" y="321.9" width="1.4" height="1.8" fill="#fff" stroke="none"/>
<rect x="2011.2" y="321.9" width="1.4" height="1.8" fill="#fff" stroke="none"/>
<rect x="2007" y="326.5" width="1.4" height="1.8" fill="#fff" stroke="none"/>
<rect x="2011.2" y="326.5" width="1.4" height="1.8" fill="#fff" stroke="none"/>
<rect x="1966" y="330" width="49.6" height="5.7" fill="#000" stroke="none" rx="0"/>
<line x1="1966" y1="333.6" x2="2015.6" y2="333.6" stroke-width="0.9" stroke="#777"/>
<polygon points="1951.3,337.8 1966,337.8 1966,335 2015.6,335 2015.6,337.8 2030,337.8 2030,340.5 2040.5,342 2012.4,391.2 2012.4,382 1968.8,382 1968.8,391.2 1940.7,342 1951.3,340.5" stroke-width="0" fill="#000" stroke="none"/>
<line x1="1969.9" y1="338" x2="1969.9" y2="382" stroke-width="1.5" stroke="#fff"/>
<line x1="2011" y1="338" x2="2011" y2="382" stroke-width="1.5" stroke="#fff"/>
<rect x="1972" y="381" width="37.2" height="30" fill="#fff" stroke="none"/>
<path d="M1972,408 A18.6,18.6 0 0 0 2009.2,408 Z" fill="#fff" stroke="none"/>
<rect x="1968.8" y="380" width="6.4" height="34" fill="#000" stroke="none" rx="0"/>
<rect x="2006" y="380" width="6.4" height="34" fill="#000" stroke="none" rx="0"/>
<path d="M1972.5,412 A18.6,18.6 0 0 0 2008.7,412" stroke-width="2.2" fill="none" />
<path d="M1969.2,413 A22.5,23.5 0 0 0 2012,413" stroke-width="1.8" fill="none" />
<circle cx="1990.6" cy="408" r="13" stroke-width="6.4" fill="#fff" />
<line x1="1990.6" y1="382" x2="1990.6" y2="437" stroke-width="1.1" />
<line x1="1964" y1="407.3" x2="2017.3" y2="407.3" stroke-width="1.1" />
<circle cx="1866.7" cy="420.5" r="104.8" stroke-width="3.8" fill="#fff" />
<circle cx="1866.7" cy="420.5" r="95.6" stroke-width="3.8" fill="none" />
<circle cx="1866.7" cy="420.5" r="55" stroke-width="5.3" fill="none" />
<circle cx="1866.7" cy="420.5" r="43.8" stroke-width="5.3" fill="none" />
<circle cx="1866.7" cy="420.5" r="34.9" stroke-width="4" fill="none" />
<line x1="1866.7" y1="440.5" x2="1866.7" y2="454" stroke-width="6.4" />
<line x1="1854.94" y1="436.68" x2="1847.01" y2="447.6" stroke-width="6.4" />
<line x1="1847.68" y1="426.68" x2="1834.84" y2="430.85" stroke-width="6.4" />
<line x1="1847.68" y1="414.32" x2="1834.84" y2="410.15" stroke-width="6.4" />
<line x1="1854.94" y1="404.32" x2="1847.01" y2="393.4" stroke-width="6.4" />
<line x1="1866.7" y1="400.5" x2="1866.7" y2="387" stroke-width="6.4" />
<line x1="1878.46" y1="404.32" x2="1886.39" y2="393.4" stroke-width="6.4" />
<line x1="1885.72" y1="414.32" x2="1898.56" y2="410.15" stroke-width="6.4" />
<line x1="1885.72" y1="426.68" x2="1898.56" y2="430.85" stroke-width="6.4" />
<line x1="1878.46" y1="436.68" x2="1886.39" y2="447.6" stroke-width="6.4" />
<circle cx="1866.7" cy="420.5" r="26.3" stroke-width="0" fill="#000" stroke="none"/>
<circle cx="1880.56" cy="426.24" r="1.5" stroke-width="0" fill="#fff" stroke="none"/>
<circle cx="1872.44" cy="434.36" r="1.5" stroke-width="0" fill="#fff" stroke="none"/>
<circle cx="1860.96" cy="434.36" r="1.5" stroke-width="0" fill="#fff" stroke="none"/>
<circle cx="1852.84" cy="426.24" r="1.5" stroke-width="0" fill="#fff" stroke="none"/>
<circle cx="1852.84" cy="414.76" r="1.5" stroke-width="0" fill="#fff" stroke="none"/>
<circle cx="1860.96" cy="406.64" r="1.5" stroke-width="0" fill="#fff" stroke="none"/>
<circle cx="1872.44" cy="406.64" r="1.5" stroke-width="0" fill="#fff" stroke="none"/>
<circle cx="1880.56" cy="414.76" r="1.5" stroke-width="0" fill="#fff" stroke="none"/>
<circle cx="1866.7" cy="420.5" r="4.4" stroke-width="0" fill="#fff" stroke="none"/>
<line x1="1866.7" y1="304.8" x2="1866.7" y2="352" stroke-width="1.1" />
<line x1="1866.7" y1="358" x2="1866.7" y2="372" stroke-width="1.1" />
<line x1="1866.7" y1="377" x2="1866.7" y2="607.3" stroke-width="1.1" />
<circle cx="2114.6" cy="420.5" r="104.8" stroke-width="3.8" fill="#fff" />
<circle cx="2114.6" cy="420.5" r="95.6" stroke-width="3.8" fill="none" />
<circle cx="2114.6" cy="420.5" r="55" stroke-width="5.3" fill="none" />
<circle cx="2114.6" cy="420.5" r="43.8" stroke-width="5.3" fill="none" />
<circle cx="2114.6" cy="420.5" r="34.9" stroke-width="4" fill="none" />
<line x1="2114.6" y1="440.5" x2="2114.6" y2="454" stroke-width="6.4" />
<line x1="2102.84" y1="436.68" x2="2094.91" y2="447.6" stroke-width="6.4" />
<line x1="2095.58" y1="426.68" x2="2082.74" y2="430.85" stroke-width="6.4" />
<line x1="2095.58" y1="414.32" x2="2082.74" y2="410.15" stroke-width="6.4" />
<line x1="2102.84" y1="404.32" x2="2094.91" y2="393.4" stroke-width="6.4" />
<line x1="2114.6" y1="400.5" x2="2114.6" y2="387" stroke-width="6.4" />
<line x1="2126.36" y1="404.32" x2="2134.29" y2="393.4" stroke-width="6.4" />
<line x1="2133.62" y1="414.32" x2="2146.46" y2="410.15" stroke-width="6.4" />
<line x1="2133.62" y1="426.68" x2="2146.46" y2="430.85" stroke-width="6.4" />
<line x1="2126.36" y1="436.68" x2="2134.29" y2="447.6" stroke-width="6.4" />
<circle cx="2114.6" cy="420.5" r="26.3" stroke-width="0" fill="#000" stroke="none"/>
<circle cx="2128.46" cy="426.24" r="1.5" stroke-width="0" fill="#fff" stroke="none"/>
<circle cx="2120.34" cy="434.36" r="1.5" stroke-width="0" fill="#fff" stroke="none"/>
<circle cx="2108.86" cy="434.36" r="1.5" stroke-width="0" fill="#fff" stroke="none"/>
<circle cx="2100.74" cy="426.24" r="1.5" stroke-width="0" fill="#fff" stroke="none"/>
<circle cx="2100.74" cy="414.76" r="1.5" stroke-width="0" fill="#fff" stroke="none"/>
<circle cx="2108.86" cy="406.64" r="1.5" stroke-width="0" fill="#fff" stroke="none"/>
<circle cx="2120.34" cy="406.64" r="1.5" stroke-width="0" fill="#fff" stroke="none"/>
<circle cx="2128.46" cy="414.76" r="1.5" stroke-width="0" fill="#fff" stroke="none"/>
<circle cx="2114.6" cy="420.5" r="4.4" stroke-width="0" fill="#fff" stroke="none"/>
<line x1="2114.6" y1="304.8" x2="2114.6" y2="352" stroke-width="1.1" />
<line x1="2114.6" y1="358" x2="2114.6" y2="372" stroke-width="1.1" />
<line x1="2114.6" y1="377" x2="2114.6" y2="607.3" stroke-width="1.1" />
<line x1="1747" y1="420.5" x2="1806" y2="420.5" stroke-width="1.1" />
<line x1="1812" y1="420.5" x2="1824" y2="420.5" stroke-width="1.1" />
<line x1="1829" y1="420.5" x2="1905" y2="420.5" stroke-width="1.1" />
<line x1="1925" y1="420.5" x2="1964" y2="420.5" stroke-width="1.1" />
<line x1="1969" y1="420.5" x2="2052" y2="420.5" stroke-width="1.1" />
<line x1="2058" y1="420.5" x2="2070" y2="420.5" stroke-width="1.1" />
<line x1="2075" y1="420.5" x2="2152" y2="420.5" stroke-width="1.1" />
<line x1="2173" y1="420.5" x2="2234" y2="420.5" stroke-width="1.1" />
<polyline points="2402.8,304 2402.8,348.7 2421.5,400 2423.3,400" stroke-width="3.6" fill="none" />
<polyline points="2432,305 2411.3,348.7 2412,370" stroke-width="3.4" fill="none" />
<path d="M2412,370 Q2426,376 2437,377.7" stroke-width="3" fill="none" />
<rect x="2436.6" y="304" width="7.7" height="97" fill="#000" stroke="none" rx="0"/>
<rect x="2431" y="349.6" width="6" height="22.4" fill="#000" stroke="none" rx="2"/>
<circle cx="2417" cy="355" r="2.6" stroke-width="0" fill="#000" stroke="none"/>
<circle cx="2420.6" cy="356.5" r="2.2" stroke-width="0" fill="#000" stroke="none"/>
<circle cx="2417" cy="360" r="2.6" stroke-width="0" fill="#000" stroke="none"/>
<circle cx="2420.6" cy="361.5" r="2.2" stroke-width="0" fill="#000" stroke="none"/>
<circle cx="2417" cy="365" r="2.6" stroke-width="0" fill="#000" stroke="none"/>
<circle cx="2420.6" cy="366.5" r="2.2" stroke-width="0" fill="#000" stroke="none"/>
<rect x="2429" y="385" width="6" height="28" fill="#000" stroke="none" rx="2"/>
<circle cx="2427" cy="392.5" r="2.8" stroke-width="0" fill="#000" stroke="none"/>
<circle cx="2437" cy="392.5" r="2.8" stroke-width="0" fill="#000" stroke="none"/>
<circle cx="2445" cy="395" r="2.6" stroke-width="0" fill="#000" stroke="none"/>
<rect x="2423.3" y="400" width="15.2" height="33.8" stroke-width="3.6" fill="none" rx="0" />
<rect x="2443.6" y="412" width="7.2" height="21.8" stroke-width="3.4" fill="#fff" rx="0" />
<line x1="2438" y1="433.8" x2="2452.5" y2="433.8" stroke-width="3.6" />
<rect x="2449.5" y="408" width="3.3" height="28" fill="#000" stroke="none" rx="1.5"/>
<circle cx="2432" cy="410.5" r="3.2" stroke-width="0" fill="#000" stroke="none"/>
<circle cx="2432.2" cy="428" r="3.2" stroke-width="2.6" fill="none" />
<rect x="2449.6" y="305" width="6.7" height="26.5" fill="#000" stroke="none" rx="3.2"/>
<circle cx="2458" cy="312" r="2.4" stroke-width="0" fill="#000" stroke="none"/>
</g>
<g id="rear">
<path d="M2696.5,433 L2697.5,492 Q2698.5,519 2707,523.3 Q2733,529.5 2760,523.3 Q2767.5,518 2768.7,492 L2769,437" stroke-width="3.2" fill="#fff" />
<path d="M3133.1,433 L3132.1,492 Q3131.1,519 3122.6,523.3 Q3096.6,529.5 3069.6,523.3 Q3062.1,518 3060.9,492 L3060.6,437" stroke-width="3.2" fill="#fff" />
<path d="M2703.6,440 L2703.8,496 Q2704.5,517 2712,519.5 Q2733,524 2756,519.5 Q2761.5,515 2762,496 L2762.2,437" stroke-width="1.3" fill="none" />
<path d="M3126,440 L3125.8,496 Q3125.1,517 3117.6,519.5 Q3096.6,524 3073.6,519.5 Q3068.1,515 3067.6,496 L3067.4,437" stroke-width="1.3" fill="none" />
<line x1="2707.4" y1="440" x2="2707.6" y2="521" stroke-width="1.2" />
<line x1="3122.2" y1="440" x2="3122" y2="521" stroke-width="1.2" />
<line x1="2758.4" y1="437" x2="2758.4" y2="520" stroke-width="1.2" />
<line x1="3071.2" y1="437" x2="3071.2" y2="520" stroke-width="1.2" />
<path d="M2731,337 Q2721.5,338 2720.6,352 L2721.5,381 Q2723,398 2738,401.2 L2896,401.2 Q2905,400.5 2907.5,392 Q2912,372 2909,352 Q2908,346 2907,342 L2833,341 L2790,337 Z" fill="#fff" stroke="none"/>
<path d="M2768,337 L2731,337 Q2721.5,338 2720.6,352 L2721.5,381 Q2723,398 2738,401.2 L2896,401.2 Q2905,400.5 2907.5,392 Q2912,372 2909,352 Q2908,346 2907,342" stroke-width="3.4" fill="none" stroke-linejoin="round"/>
<line x1="2832" y1="341.3" x2="2994" y2="342.1" stroke-width="3.4" />
<path d="M2727,392.5 L2903,392.5" stroke-width="1.3" fill="none" />
<path d="M2727,396.2 L2903,396.2" stroke-width="1.3" fill="none" />
<line x1="2738" y1="401.2" x2="2961" y2="401.2" stroke-width="3.8" />
<rect x="2909.5" y="345.5" width="78.5" height="6.8" fill="#000" stroke="none" rx="0"/>
<line x1="2989.4" y1="342" x2="2989.4" y2="379" stroke-width="3.2" />
<line x1="2993.6" y1="342" x2="2993.6" y2="377" stroke-width="3" />
<line x1="2912" y1="372" x2="2985" y2="372" stroke-width="3.4" />
<line x1="2912" y1="376.9" x2="2985" y2="376.9" stroke-width="3" />
<path d="M2985.5,378 Q2984,397 2961,401.5" stroke-width="4" fill="none" />
<path d="M2995,375.4 Q2994,402 2969.3,408.7" stroke-width="3.4" fill="none" />
<circle cx="2957" cy="359.2" r="3" stroke-width="0" fill="#000" stroke="none"/>
<rect x="2968.5" y="353.2" width="7.7" height="15.4" fill="#000" stroke="none" rx="3.5"/>
<path d="M2732,326 Q2733,352 2738,359 L2765,361" stroke-width="3.2" fill="none" />
<path d="M2737.5,326 Q2739.5,348 2744,355 L2765,356.5" stroke-width="1.4" fill="none" />
<path d="M2731.5,362 Q2732,392 2760,404" stroke-width="3.2" fill="none" />
<path d="M2741.5,364 Q2743,386 2765,397" stroke-width="3.2" fill="none" />
<line x1="2749" y1="16.4" x2="3080.5" y2="16.4" stroke-width="5.6" />
<line x1="2756" y1="31.8" x2="3073.6" y2="31.8" stroke-width="6.4" />
<line x1="2750.2" y1="14.7" x2="2699" y2="65.3" stroke-width="4.8" />
<line x1="3079.4" y1="14.7" x2="3130.6" y2="65.3" stroke-width="4.8" />
<line x1="2756.8" y1="31.6" x2="2712.3" y2="75.2" stroke-width="4.8" />
<line x1="3072.8" y1="31.6" x2="3117.3" y2="75.2" stroke-width="4.8" />
<line x1="2749.8" y1="16" x2="2756.5" y2="32" stroke-width="3.8" />
<line x1="3079.8" y1="16" x2="3073.1" y2="32" stroke-width="3.8" />
<line x1="2699.5" y1="65" x2="2712.5" y2="73.4" stroke-width="3.6" />
<line x1="3130.1" y1="65" x2="3117.1" y2="73.4" stroke-width="3.6" />
<path d="M2696.4,232 L2696.4,30 A8,8 0 0 1 2704.4,23.4 A8.8,8 0 0 1 2713.1,30 L2713.1,50" stroke-width="5" fill="none" />
<path d="M3133.2,232 L3133.2,30 A8,8 0 0 0 3125.2,23.4 A8.8,8 0 0 0 3116.5,30 L3116.5,50" stroke-width="5" fill="none" />
<path d="M2695,34 L2695,29 Q2695.5,21 2704.4,21 Q2713.3,21 2713.8,29 L2713.8,34 Z" fill="#000" stroke="none"/>
<rect x="2701.7" y="27" width="6.8" height="3.9" fill="#fff" stroke="none"/>
<path d="M3134.6,34 L3134.6,29 Q3134.1,21 3125.2,21 Q3116.3,21 3115.8,29 L3115.8,34 Z" fill="#000" stroke="none"/>
<rect x="3121.1" y="27" width="6.8" height="3.9" fill="#fff" stroke="none"/>
<line x1="2713.8" y1="74" x2="2713.8" y2="241" stroke-width="5.8" />
<line x1="3115.8" y1="74" x2="3115.8" y2="241" stroke-width="5.8" />
<line x1="2697.2" y1="66" x2="2697.2" y2="232" stroke-width="6.2" />
<line x1="3132.4" y1="66" x2="3132.4" y2="232" stroke-width="6.2" />
<rect x="2693" y="228" width="25" height="10" fill="#000" stroke="none" rx="4"/>
<rect x="3111.6" y="228" width="25" height="10" fill="#000" stroke="none" rx="4"/>
<ellipse cx="2705.3" cy="234" rx="7.4" ry="2.4" fill="#fff" stroke="none"/>
<ellipse cx="3124.3" cy="234" rx="7.4" ry="2.4" fill="#fff" stroke="none"/>
<path d="M2703,240 L2703,252 Q2703.5,256 2708,256 Q2712.5,256 2712.3,250 L2712.3,240" stroke-width="3.6" fill="none" />
<path d="M3126.6,240 L3126.6,252 Q3126.1,256 3121.6,256 Q3117.1,256 3117.3,250 L3117.3,240" stroke-width="3.6" fill="none" />
<circle cx="2707.5" cy="249" r="2.3" stroke-width="0" fill="#000" stroke="none"/>
<circle cx="3122.1" cy="249" r="2.3" stroke-width="0" fill="#000" stroke="none"/>
<line x1="2689.1" y1="103" x2="2689.1" y2="234" stroke-width="2.2" />
<line x1="3140.5" y1="103" x2="3140.5" y2="234" stroke-width="2.2" />
<line x1="2692.8" y1="104" x2="2692.8" y2="234" stroke-width="1.6" />
<line x1="3136.8" y1="104" x2="3136.8" y2="234" stroke-width="1.6" />
<line x1="2688" y1="102.8" x2="2694" y2="102.8" stroke-width="2.4" />
<line x1="3141.6" y1="102.8" x2="3135.6" y2="102.8" stroke-width="2.4" />
<line x1="2688" y1="233.8" x2="2696" y2="233.8" stroke-width="2.4" />
<line x1="3141.6" y1="233.8" x2="3133.6" y2="233.8" stroke-width="2.4" />
<line x1="2716.9" y1="78" x2="2819.4" y2="78" stroke-width="4.2" />
<line x1="2716.9" y1="95.2" x2="2819.4" y2="95.2" stroke-width="3.8" />
<line x1="2716.9" y1="149.2" x2="2819.4" y2="149.2" stroke-width="3.9" />
<line x1="2716.9" y1="165.7" x2="2819.4" y2="165.7" stroke-width="3.9" />
<line x1="2716.9" y1="210.7" x2="2819.4" y2="210.7" stroke-width="5.8" />
<line x1="2850.8" y1="78" x2="2978.8" y2="78" stroke-width="4.2" />
<line x1="2850.8" y1="95.2" x2="2978.8" y2="95.2" stroke-width="3.8" />
<line x1="2850.8" y1="149.2" x2="2978.8" y2="149.2" stroke-width="3.9" />
<line x1="2850.8" y1="165.7" x2="2978.8" y2="165.7" stroke-width="3.9" />
<line x1="2850.8" y1="210.7" x2="2978.8" y2="210.7" stroke-width="5.8" />
<line x1="3010.2" y1="78" x2="3112.7" y2="78" stroke-width="4.2" />
<line x1="3010.2" y1="95.2" x2="3112.7" y2="95.2" stroke-width="3.8" />
<line x1="3010.2" y1="149.2" x2="3112.7" y2="149.2" stroke-width="3.9" />
<line x1="3010.2" y1="165.7" x2="3112.7" y2="165.7" stroke-width="3.9" />
<line x1="3010.2" y1="210.7" x2="3112.7" y2="210.7" stroke-width="5.8" />
<rect x="2819.4" y="33" width="5.5" height="177" fill="#000" stroke="none" rx="0"/>
<rect x="3004.7" y="33" width="5.5" height="177" fill="#000" stroke="none" rx="0"/>
<rect x="2844.6" y="33" width="6.2" height="177" fill="#000" stroke="none" rx="0"/>
<rect x="2978.8" y="33" width="6.2" height="177" fill="#000" stroke="none" rx="0"/>
<line x1="2824.9" y1="69.2" x2="2844.6" y2="69.2" stroke-width="4.3" />
<line x1="3004.7" y1="69.2" x2="2985" y2="69.2" stroke-width="4.3" />
<line x1="2824.9" y1="154.6" x2="2844.6" y2="154.6" stroke-width="2.4" />
<line x1="3004.7" y1="154.6" x2="2985" y2="154.6" stroke-width="2.4" />
<rect x="2824.9" y="154" width="5.5" height="56" fill="#000" stroke="none" rx="0"/>
<rect x="2999.2" y="154" width="5.5" height="56" fill="#000" stroke="none" rx="0"/>
<rect x="2841.3" y="154" width="3.3" height="56" fill="#000" stroke="none" rx="0"/>
<rect x="2985" y="154" width="3.3" height="56" fill="#000" stroke="none" rx="0"/>
<line x1="2835.4" y1="154" x2="2835.4" y2="210" stroke-width="3.3" />
<line x1="2994.2" y1="154" x2="2994.2" y2="210" stroke-width="3.3" />
<rect x="2815" y="213" width="4" height="89" fill="#000" stroke="none" rx="0"/>
<rect x="3010.6" y="213" width="4" height="89" fill="#000" stroke="none" rx="0"/>
<rect x="2850.7" y="213" width="4" height="39" fill="#000" stroke="none" rx="0"/>
<rect x="2974.9" y="213" width="4" height="39" fill="#000" stroke="none" rx="0"/>
<line x1="2818" y1="218.7" x2="2852" y2="218.7" stroke-width="4" />
<line x1="3011.6" y1="218.7" x2="2977.6" y2="218.7" stroke-width="4" />
<line x1="2717" y1="241.8" x2="2816" y2="241.8" stroke-width="6" />
<line x1="3112.6" y1="241.8" x2="3013.6" y2="241.8" stroke-width="6" />
<rect x="2728.7" y="243.8" width="84.5" height="80.4" stroke-width="4.8" fill="#fff" rx="0" />
<rect x="3016.4" y="243.8" width="84.5" height="80.4" stroke-width="4.8" fill="#fff" rx="0" />
<circle cx="2741" cy="244.8" r="2.6" stroke-width="0" fill="#000" stroke="none"/>
<circle cx="3088.6" cy="244.8" r="2.6" stroke-width="0" fill="#000" stroke="none"/>
<rect x="2867" y="214" width="97.7" height="19.9" fill="#000" stroke="none" rx="2"/>
<ellipse cx="2884" cy="226" rx="2.6" ry="1.7" fill="#fff" stroke="none" transform="rotate(-30 2884 226)"/>
<ellipse cx="2896" cy="226" rx="2.6" ry="1.7" fill="#fff" stroke="none" transform="rotate(-30 2896 226)"/>
<ellipse cx="2908" cy="226" rx="2.6" ry="1.7" fill="#fff" stroke="none" transform="rotate(-30 2908 226)"/>
<ellipse cx="2920" cy="226" rx="2.6" ry="1.7" fill="#fff" stroke="none" transform="rotate(-30 2920 226)"/>
<ellipse cx="2932" cy="226" rx="2.6" ry="1.7" fill="#fff" stroke="none" transform="rotate(-30 2932 226)"/>
<ellipse cx="2944" cy="226" rx="2.6" ry="1.7" fill="#fff" stroke="none" transform="rotate(-30 2944 226)"/>
<rect x="2872.5" y="214" width="4" height="6.5" fill="#fff" stroke="none"/>
<rect x="2951" y="226.6" width="6" height="1.8" fill="#fff" stroke="none"/>
<rect x="2958" y="214" width="2.6" height="7" fill="#fff" stroke="none"/>
<path d="M2821.5,248.5 L2844,236.5 L2985.6,236.5 L3008.1,248.5" stroke-width="6" fill="none" stroke-linejoin="miter"/>
<line x1="2826" y1="250.7" x2="3003.6" y2="250.7" stroke-width="4.6" />
<rect x="2815.8" y="246" width="7.2" height="57" fill="#000" stroke="none" rx="0"/>
<rect x="3006.6" y="246" width="7.2" height="57" fill="#000" stroke="none" rx="0"/>
<rect x="2846.8" y="250" width="7.9" height="53" fill="#000" stroke="none" rx="0"/>
<rect x="2974.9" y="250" width="7.9" height="53" fill="#000" stroke="none" rx="0"/>
<line x1="2822" y1="263.7" x2="2848" y2="263.7" stroke-width="4.5" />
<line x1="3007.6" y1="263.7" x2="2981.6" y2="263.7" stroke-width="4.5" />
<line x1="2822" y1="279.3" x2="2848" y2="279.3" stroke-width="4" />
<line x1="3007.6" y1="279.3" x2="2981.6" y2="279.3" stroke-width="4" />
<path d="M2821.4,288 Q2823,297 2831,302 M2848.6,288 Q2847,297 2839,302" stroke-width="4" fill="none" />
<path d="M3008.2,288 Q3006.6,297 2998.6,302 M2981,288 Q2982.6,297 2990.6,302" stroke-width="4" fill="none" />
<line x1="2815.8" y1="303" x2="2852" y2="303" stroke-width="5.4" />
<line x1="3013.8" y1="303" x2="2977.6" y2="303" stroke-width="5.4" />
<line x1="2854" y1="297" x2="2975.6" y2="297" stroke-width="1.2" />
<line x1="2850" y1="302" x2="2979.6" y2="302" stroke-width="7.3" />
<rect x="2906" y="252" width="17.2" height="5.5" fill="#000" stroke="none" rx="1.5"/>
<rect x="2910.1" y="258.1" width="8.8" height="4.8" stroke-width="3.2" fill="#fff" rx="1" />
<rect x="2906.5" y="263" width="16.2" height="4.5" fill="#000" stroke="none" rx="2"/>
<rect x="2832.3" y="305" width="9.7" height="28.3" fill="#000" stroke="none" rx="0"/>
<rect x="2987.6" y="305" width="9.7" height="28.3" fill="#000" stroke="none" rx="0"/>
<line x1="2842" y1="323.4" x2="2987.6" y2="323.4" stroke-width="4" />
<line x1="2832.3" y1="330.6" x2="2997.3" y2="330.6" stroke-width="5.3" />
<circle cx="2869" cy="308.6" r="3" stroke-width="0" fill="#000" stroke="none"/>
<circle cx="2856.7" cy="319.5" r="3" stroke-width="0" fill="#000" stroke="none"/>
<circle cx="2869" cy="319.5" r="3" stroke-width="0" fill="#000" stroke="none"/>
<circle cx="2960.6" cy="308.6" r="3" stroke-width="0" fill="#000" stroke="none"/>
<circle cx="2972.9" cy="319.5" r="3" stroke-width="0" fill="#000" stroke="none"/>
<circle cx="2960.6" cy="319.5" r="3" stroke-width="0" fill="#000" stroke="none"/>
<line x1="2838.5" y1="332.5" x2="2793.5" y2="364" stroke-width="4.8" />
<line x1="2991.1" y1="332.5" x2="3036.1" y2="364" stroke-width="4.8" />
<rect x="2768" y="326" width="21.6" height="83" fill="#fff" stroke="none"/>
<rect x="3040" y="326" width="21.6" height="83" fill="#fff" stroke="none"/>
<line x1="2768" y1="326" x2="2768" y2="409" stroke-width="5.6" />
<line x1="3061.6" y1="326" x2="3061.6" y2="409" stroke-width="5.6" />
<line x1="2789.6" y1="326" x2="2789.6" y2="409" stroke-width="6.6" />
<line x1="3040" y1="326" x2="3040" y2="409" stroke-width="6.6" />
<rect x="2694" y="266.6" width="31" height="27.4" stroke-width="4" fill="#fff" rx="0" />
<rect x="3104.6" y="266.6" width="31" height="27.4" stroke-width="4" fill="#fff" rx="0" />
<rect x="2692" y="293.5" width="35" height="6" fill="#000" stroke="none" rx="0"/>
<rect x="3102.6" y="293.5" width="35" height="6" fill="#000" stroke="none" rx="0"/>
<path d="M2694,298 L2694,340 L2709,340 Q2722,332 2727,306 L2727,298 Z" stroke-width="3" fill="#000" />
<path d="M3135.6,298 L3135.6,340 L3120.6,340 Q3107.6,332 3102.6,306 L3102.6,298 Z" stroke-width="3" fill="#000" />
<path d="M2700,307 L2716,307 L2722,311 L2713,326 Q2711,335 2705,336 Q2699,334 2700,326 Z" fill="#fff" stroke="none"/>
<circle cx="2701" cy="313" r="2.3" stroke-width="0" fill="#000" stroke="none"/>
<circle cx="2701" cy="319" r="2.3" stroke-width="0" fill="#000" stroke="none"/>
<circle cx="2701" cy="325" r="2.3" stroke-width="0" fill="#000" stroke="none"/>
<path d="M2719.5,315 L2726,304 L2726,318 Z" fill="#fff" stroke="none"/>
<rect x="2701" y="300.8" width="20" height="1.2" fill="#fff" stroke="none"/>
<path d="M3129.6,307 L3113.6,307 L3107.6,311 L3116.6,326 Q3118.6,335 3124.6,336 Q3130.6,334 3129.6,326 Z" fill="#fff" stroke="none"/>
<circle cx="3128.6" cy="313" r="2.3" stroke-width="0" fill="#000" stroke="none"/>
<circle cx="3128.6" cy="319" r="2.3" stroke-width="0" fill="#000" stroke="none"/>
<circle cx="3128.6" cy="325" r="2.3" stroke-width="0" fill="#000" stroke="none"/>
<path d="M3110.1,315 L3103.6,304 L3103.6,318 Z" fill="#fff" stroke="none"/>
<rect x="3108.6" y="300.8" width="20" height="1.2" fill="#fff" stroke="none"/>
<line x1="2691" y1="339" x2="2691" y2="432" stroke-width="3.4" />
<line x1="3138.6" y1="339" x2="3138.6" y2="432" stroke-width="3.4" />
<line x1="2708" y1="339" x2="2708" y2="432" stroke-width="4.6" />
<line x1="3121.6" y1="339" x2="3121.6" y2="432" stroke-width="4.6" />
<line x1="2700.7" y1="340" x2="2700.7" y2="431" stroke-width="3.6" />
<line x1="3128.9" y1="340" x2="3128.9" y2="431" stroke-width="3.6" />
<line x1="2689.3" y1="431" x2="2709" y2="431" stroke-width="3" />
<line x1="3140.3" y1="431" x2="3120.6" y2="431" stroke-width="3" />
<rect x="2693.5" y="431" width="6" height="24" fill="#000" stroke="none" rx="1"/>
<rect x="3130.1" y="431" width="6" height="24" fill="#000" stroke="none" rx="1"/>
<line x1="2704.5" y1="432" x2="2704.5" y2="452" stroke-width="1.4" />
<line x1="3125.1" y1="432" x2="3125.1" y2="452" stroke-width="1.4" />
<line x1="2709" y1="373.6" x2="2721.5" y2="373.6" stroke-width="5.6" />
<path d="M2799,364 L2806,363 L2808.6,404 Q2805,408 2801,405 Z" stroke-width="2" fill="#000" />
<line x1="2794" y1="377" x2="2794" y2="403" stroke-width="5" />
<line x1="2790" y1="412.1" x2="2994" y2="412.1" stroke-width="7.6" />
<line x1="2757.4" y1="434.5" x2="3072.2" y2="434.5" stroke-width="5" />
<rect x="2820.4" y="411" width="17.6" height="26.2" fill="#fff" stroke="#000" stroke-width="3.5"/>
<rect x="2822.2" y="409.5" width="14.1" height="4" fill="#fff" stroke="none"/>
<rect x="2822.2" y="433" width="14.1" height="5" fill="#fff" stroke="none"/>
<line x1="2820" y1="438" x2="2838.5" y2="438" stroke-width="1" />
<line x1="3009" y1="400" x2="3009" y2="434" stroke-width="3.6" />
<rect x="2757.2" y="410.3" width="43.5" height="25.7" fill="#000" stroke="none" rx="3"/>
<rect x="3028.9" y="410.3" width="43.5" height="25.7" fill="#000" stroke="none" rx="3"/>
<rect x="2762" y="401" width="34" height="11" fill="#000" stroke="none" rx="4"/>
<rect x="3033.6" y="401" width="34" height="11" fill="#000" stroke="none" rx="4"/>
<rect x="2765" y="404.5" width="24" height="4" fill="#fff" stroke="none"/>
<rect x="2768" y="419.5" width="7" height="2.4" fill="#fff" stroke="none"/>
<rect x="2781" y="419.5" width="7" height="2.4" fill="#fff" stroke="none"/>
<rect x="2771" y="428.5" width="16" height="1.6" fill="#fff" stroke="none"/>
<rect x="3040.6" y="404.5" width="24" height="4" fill="#fff" stroke="none"/>
<rect x="3054.6" y="419.5" width="7" height="2.4" fill="#fff" stroke="none"/>
<rect x="3041.6" y="419.5" width="7" height="2.4" fill="#fff" stroke="none"/>
<rect x="3042.6" y="428.5" width="16" height="1.6" fill="#fff" stroke="none"/>
<path d="M2769.5,436 L2769.5,454 L2782,454 L2782,436" stroke-width="3.2" fill="none" />
<path d="M3060.1,436 L3060.1,454 L3047.6,454 L3047.6,436" stroke-width="3.2" fill="none" />
<line x1="3063.8" y1="373.5" x2="3119.2" y2="373.5" stroke-width="4.4" />
<circle cx="3078" cy="368.5" r="2.9" stroke-width="0" fill="#000" stroke="none"/>
<circle cx="3104.7" cy="368.5" r="2.9" stroke-width="0" fill="#000" stroke="none"/>
<line x1="3064.7" y1="376" x2="3064.7" y2="404" stroke-width="1.8" />
<line x1="3069" y1="376" x2="3069" y2="404" stroke-width="3.4" />
<rect x="3026.8" y="382.3" width="8.4" height="8.9" stroke-width="3.6" fill="#fff" rx="5" />
<rect x="3025" y="382" width="7" height="9.5" fill="#000" stroke="none" rx="4"/>
<rect x="3032.6" y="384.6" width="3" height="4.4" fill="#fff" stroke="none"/>
<line x1="3010" y1="349" x2="3010" y2="415" stroke-width="5" />
<line x1="3012" y1="373.2" x2="3036" y2="373.2" stroke-width="5.8" />
<line x1="3010.8" y1="413.6" x2="3033" y2="413.6" stroke-width="4.6" />
<line x1="2990.2" y1="343" x2="2990.2" y2="434" stroke-width="4.6" />
<line x1="2994.2" y1="343" x2="2994.2" y2="400" stroke-width="1.6" />
<line x1="2990" y1="400.2" x2="3010.8" y2="400.2" stroke-width="3" />
</g>
<g id="plan">
<rect x="291" y="828.8" width="2190" height="9.9" fill="#000" stroke="none" rx="0"/>
<rect x="291" y="1269.1" width="2190" height="9.9" fill="#000" stroke="none" rx="0"/>
<rect x="628.5" y="838" width="1852.5" height="2.5" fill="#000" stroke="none" rx="0"/>
<rect x="628.5" y="1267.3" width="1852.5" height="2.5" fill="#000" stroke="none" rx="0"/>
<rect x="281.9" y="835" width="6.1" height="438" fill="#000" stroke="none" rx="0"/>
<rect x="291.9" y="830" width="10" height="448" fill="#000" stroke="none" rx="0"/>
<rect x="276.3" y="834.6" width="7.7" height="24.6" fill="#000" stroke="none" rx="3"/>
<rect x="276.3" y="1248.6" width="7.7" height="24.6" fill="#000" stroke="none" rx="3"/>
<rect x="289.8" y="890" width="2.7" height="327.8" fill="#000" stroke="none" rx="0"/>
<rect x="2472" y="829" width="9.6" height="450" fill="#000" stroke="none" rx="1.5"/>
<line x1="2464.7" y1="843" x2="2464.7" y2="1265" stroke-width="4.2" />
<line x1="2470.6" y1="845" x2="2470.6" y2="1263" stroke-width="1.2" />
<rect x="2462.6" y="845" width="19" height="43" fill="#000" stroke="none" rx="0"/>
<rect x="2462.6" y="1219.8" width="19" height="43" fill="#000" stroke="none" rx="0"/>
<polygon points="2467,848 2471.3,844.2 2471.3,852.5 2467,856.5" stroke-width="0" fill="#fff" stroke="none"/>
<polygon points="2467,1259.8 2471.3,1263.6 2471.3,1255.3 2467,1251.3" stroke-width="0" fill="#fff" stroke="none"/>
<rect x="2456" y="831.6" width="15" height="1.3" fill="#fff" stroke="none"/>
<rect x="2456" y="1274.9" width="15" height="1.3" fill="#fff" stroke="none"/>
<line x1="300" y1="845.9" x2="441.8" y2="845.9" stroke-width="4" />
<rect x="438.4" y="846" width="17.7" height="21.8" fill="#000" stroke="none" rx="1.5"/>
<rect x="447.8" y="856.8" width="1.6" height="3" fill="#fff" stroke="none"/>
<rect x="455.3" y="836" width="23.6" height="36.8" fill="#000" stroke="none" rx="3"/>
<rect x="461.1" y="839" width="2.8" height="12" fill="#fff" stroke="none"/>
<rect x="470" y="839" width="3.1" height="12" fill="#fff" stroke="none"/>
<rect x="461.1" y="857.1" width="12.9" height="10.7" fill="#fff" stroke="none" rx="1"/>
<line x1="478.9" y1="845.9" x2="920.3" y2="845.9" stroke-width="4" />
<rect x="916.9" y="846" width="17.7" height="21.8" fill="#000" stroke="none" rx="1.5"/>
<rect x="926.3" y="856.8" width="1.6" height="3" fill="#fff" stroke="none"/>
<rect x="933.8" y="836" width="23.6" height="36.8" fill="#000" stroke="none" rx="3"/>
<rect x="939.6" y="839" width="2.8" height="12" fill="#fff" stroke="none"/>
<rect x="948.5" y="839" width="3.1" height="12" fill="#fff" stroke="none"/>
<rect x="939.6" y="857.1" width="12.9" height="10.7" fill="#fff" stroke="none" rx="1"/>
<line x1="957.4" y1="845.9" x2="1377.5" y2="845.9" stroke-width="4" />
<rect x="1374.1" y="846" width="17.7" height="21.8" fill="#000" stroke="none" rx="1.5"/>
<rect x="1383.5" y="856.8" width="1.6" height="3" fill="#fff" stroke="none"/>
<rect x="1391" y="836" width="23.6" height="36.8" fill="#000" stroke="none" rx="3"/>
<rect x="1396.8" y="839" width="2.8" height="12" fill="#fff" stroke="none"/>
<rect x="1405.7" y="839" width="3.1" height="12" fill="#fff" stroke="none"/>
<rect x="1396.8" y="857.1" width="12.9" height="10.7" fill="#fff" stroke="none" rx="1"/>
<line x1="1414.6" y1="845.9" x2="1834.5" y2="845.9" stroke-width="4" />
<rect x="1831.1" y="846" width="17.7" height="21.8" fill="#000" stroke="none" rx="1.5"/>
<rect x="1840.5" y="856.8" width="1.6" height="3" fill="#fff" stroke="none"/>
<rect x="1848" y="836" width="23.6" height="36.8" fill="#000" stroke="none" rx="3"/>
<rect x="1853.8" y="839" width="2.8" height="12" fill="#fff" stroke="none"/>
<rect x="1862.7" y="839" width="3.1" height="12" fill="#fff" stroke="none"/>
<rect x="1853.8" y="857.1" width="12.9" height="10.7" fill="#fff" stroke="none" rx="1"/>
<line x1="1871.6" y1="845.9" x2="2291.7" y2="845.9" stroke-width="4" />
<rect x="2288.3" y="846" width="17.7" height="21.8" fill="#000" stroke="none" rx="1.5"/>
<rect x="2297.7" y="856.8" width="1.6" height="3" fill="#fff" stroke="none"/>
<rect x="2305.2" y="836" width="23.6" height="36.8" fill="#000" stroke="none" rx="3"/>
<rect x="2311" y="839" width="2.8" height="12" fill="#fff" stroke="none"/>
<rect x="2319.9" y="839" width="3.1" height="12" fill="#fff" stroke="none"/>
<rect x="2311" y="857.1" width="12.9" height="10.7" fill="#fff" stroke="none" rx="1"/>
<line x1="2328.8" y1="845.9" x2="2464" y2="845.9" stroke-width="4" />
<rect x="620.5" y="829.9" width="16" height="1.4" fill="#fff" stroke="none"/>
<rect x="1079.5" y="829.9" width="16" height="1.4" fill="#fff" stroke="none"/>
<rect x="1538" y="829.9" width="16" height="1.4" fill="#fff" stroke="none"/>
<rect x="1996.5" y="829.9" width="16" height="1.4" fill="#fff" stroke="none"/>
<line x1="300" y1="1261.9" x2="441.8" y2="1261.9" stroke-width="4" />
<rect x="438.4" y="1240" width="17.7" height="21.8" fill="#000" stroke="none" rx="1.5"/>
<rect x="447.8" y="1248" width="1.6" height="3" fill="#fff" stroke="none"/>
<rect x="455.3" y="1235" width="23.6" height="36.8" fill="#000" stroke="none" rx="3"/>
<rect x="461.1" y="1256.8" width="2.8" height="12" fill="#fff" stroke="none"/>
<rect x="470" y="1256.8" width="3.1" height="12" fill="#fff" stroke="none"/>
<rect x="461.1" y="1240" width="12.9" height="10.7" fill="#fff" stroke="none" rx="1"/>
<line x1="478.9" y1="1261.9" x2="920.3" y2="1261.9" stroke-width="4" />
<rect x="916.9" y="1240" width="17.7" height="21.8" fill="#000" stroke="none" rx="1.5"/>
<rect x="926.3" y="1248" width="1.6" height="3" fill="#fff" stroke="none"/>
<rect x="933.8" y="1235" width="23.6" height="36.8" fill="#000" stroke="none" rx="3"/>
<rect x="939.6" y="1256.8" width="2.8" height="12" fill="#fff" stroke="none"/>
<rect x="948.5" y="1256.8" width="3.1" height="12" fill="#fff" stroke="none"/>
<rect x="939.6" y="1240" width="12.9" height="10.7" fill="#fff" stroke="none" rx="1"/>
<line x1="957.4" y1="1261.9" x2="1377.5" y2="1261.9" stroke-width="4" />
<rect x="1374.1" y="1240" width="17.7" height="21.8" fill="#000" stroke="none" rx="1.5"/>
<rect x="1383.5" y="1248" width="1.6" height="3" fill="#fff" stroke="none"/>
<rect x="1391" y="1235" width="23.6" height="36.8" fill="#000" stroke="none" rx="3"/>
<rect x="1396.8" y="1256.8" width="2.8" height="12" fill="#fff" stroke="none"/>
<rect x="1405.7" y="1256.8" width="3.1" height="12" fill="#fff" stroke="none"/>
<rect x="1396.8" y="1240" width="12.9" height="10.7" fill="#fff" stroke="none" rx="1"/>
<line x1="1414.6" y1="1261.9" x2="1834.5" y2="1261.9" stroke-width="4" />
<rect x="1831.1" y="1240" width="17.7" height="21.8" fill="#000" stroke="none" rx="1.5"/>
<rect x="1840.5" y="1248" width="1.6" height="3" fill="#fff" stroke="none"/>
<rect x="1848" y="1235" width="23.6" height="36.8" fill="#000" stroke="none" rx="3"/>
<rect x="1853.8" y="1256.8" width="2.8" height="12" fill="#fff" stroke="none"/>
<rect x="1862.7" y="1256.8" width="3.1" height="12" fill="#fff" stroke="none"/>
<rect x="1853.8" y="1240" width="12.9" height="10.7" fill="#fff" stroke="none" rx="1"/>
<line x1="1871.6" y1="1261.9" x2="2291.7" y2="1261.9" stroke-width="4" />
<rect x="2288.3" y="1240" width="17.7" height="21.8" fill="#000" stroke="none" rx="1.5"/>
<rect x="2297.7" y="1248" width="1.6" height="3" fill="#fff" stroke="none"/>
<rect x="2305.2" y="1235" width="23.6" height="36.8" fill="#000" stroke="none" rx="3"/>
<rect x="2311" y="1256.8" width="2.8" height="12" fill="#fff" stroke="none"/>
<rect x="2319.9" y="1256.8" width="3.1" height="12" fill="#fff" stroke="none"/>
<rect x="2311" y="1240" width="12.9" height="10.7" fill="#fff" stroke="none" rx="1"/>
<line x1="2328.8" y1="1261.9" x2="2464" y2="1261.9" stroke-width="4" />
<rect x="620.5" y="1276.5" width="16" height="1.4" fill="#fff" stroke="none"/>
<rect x="1079.5" y="1276.5" width="16" height="1.4" fill="#fff" stroke="none"/>
<rect x="1538" y="1276.5" width="16" height="1.4" fill="#fff" stroke="none"/>
<rect x="1996.5" y="1276.5" width="16" height="1.4" fill="#fff" stroke="none"/>
<line x1="300" y1="961.9" x2="2464" y2="961.9" stroke-width="4.1" />
<line x1="300" y1="988.4" x2="2464" y2="988.4" stroke-width="4.1" />
<line x1="300" y1="1145.9" x2="2464" y2="1145.9" stroke-width="4.1" />
<line x1="300" y1="1119.4" x2="2464" y2="1119.4" stroke-width="4.1" />
<line x1="503.8" y1="988" x2="503.8" y2="1119.8" stroke-width="4.4" />
<line x1="1299" y1="961.9" x2="1299" y2="988.4" stroke-width="4.4" />
<line x1="1299" y1="1145.9" x2="1299" y2="1119.4" stroke-width="4.4" />
<line x1="2360.5" y1="961.9" x2="2360.5" y2="988.4" stroke-width="4.4" />
<line x1="2360.5" y1="1145.9" x2="2360.5" y2="1119.4" stroke-width="4.4" />
<line x1="2460" y1="961.9" x2="2460" y2="988.4" stroke-width="3.2" />
<line x1="2460" y1="1145.9" x2="2460" y2="1119.4" stroke-width="3.2" />
<rect x="241.2" y="957.7" width="40.7" height="34.6" fill="#fff" stroke="#000" stroke-width="5.5" rx="1.5"/>
<line x1="244" y1="964.1" x2="281" y2="964.1" stroke-width="4" />
<line x1="244" y1="975" x2="281" y2="975" stroke-width="4" />
<line x1="244" y1="986.1" x2="281" y2="986.1" stroke-width="4" />
<rect x="254" y="1010.5" width="21" height="12.8" fill="#000" stroke="none" rx="5"/>
<rect x="274.3" y="1007.4" width="6.3" height="4.6" fill="#000" stroke="none" rx="0"/>
<rect x="241.2" y="1115.5" width="40.7" height="34.6" fill="#fff" stroke="#000" stroke-width="5.5" rx="1.5"/>
<line x1="244" y1="1143.7" x2="281" y2="1143.7" stroke-width="4" />
<line x1="244" y1="1132.8" x2="281" y2="1132.8" stroke-width="4" />
<line x1="244" y1="1121.7" x2="281" y2="1121.7" stroke-width="4" />
<rect x="254" y="1084.5" width="21" height="12.8" fill="#000" stroke="none" rx="5"/>
<rect x="274.3" y="1095.8" width="6.3" height="4.6" fill="#000" stroke="none" rx="0"/>
<line x1="268.2" y1="995" x2="268.2" y2="1112.8" stroke-width="5.7" />
<line x1="277.4" y1="1007.4" x2="277.4" y2="1100.4" stroke-width="6.3" />
</g>
<g id="dims">
<line x1="194" y1="250.8" x2="288" y2="250.8" stroke-width="1.25" />
<line x1="194" y1="516.4" x2="2471.5" y2="516.4" stroke-width="1.25" />
<line x1="207.6" y1="250.8" x2="207.6" y2="516.4" stroke-width="1.25" />
<polygon points="207.6,250.8 212.7,287.3 207.6,283.83 202.5,287.3" fill="#000" stroke="none"/>
<polygon points="207.6,516.4 202.5,479.9 207.6,483.37 212.7,479.9" fill="#000" stroke="none"/>
<text transform="translate(188.5,381) rotate(-90) scale(0.75,1)" font-size="51" text-anchor="middle">1500</text>
<line x1="240" y1="213" x2="240" y2="672.5" stroke-width="1.25" />
<line x1="2479.5" y1="226" x2="2479.5" y2="672.5" stroke-width="1.25" />
<line x1="537.9" y1="267" x2="537.9" y2="607.3" stroke-width="1.25" />
<line x1="537.9" y1="592.4" x2="2114.6" y2="592.4" stroke-width="1.25" />
<polygon points="537.9,592.4 574.4,587.3 570.93,592.4 574.4,597.5" fill="#000" stroke="none"/>
<polygon points="1866.2,592.4 1829.7,597.5 1833.17,592.4 1829.7,587.3" fill="#000" stroke="none"/>
<polygon points="1866.2,592.4 1902.7,587.3 1899.23,592.4 1902.7,597.5" fill="#000" stroke="none"/>
<polygon points="2114.6,592.4 2078.1,597.5 2081.57,592.4 2078.1,587.3" fill="#000" stroke="none"/>
<text transform="translate(1205,574.6) rotate(0) scale(0.75,1)" font-size="51" text-anchor="middle">7500</text>
<text transform="translate(1993.5,574.6) rotate(0) scale(0.75,1)" font-size="51" text-anchor="middle">1400</text>
<line x1="240" y1="657.6" x2="2479.5" y2="657.6" stroke-width="1.25" />
<polygon points="240,657.6 276.5,652.5 273.03,657.6 276.5,662.7" fill="#000" stroke="none"/>
<polygon points="2479.5,657.6 2443,662.7 2446.47,657.6 2443,652.5" fill="#000" stroke="none"/>
<text transform="translate(1362.5,640) rotate(0) scale(0.75,1)" font-size="51" text-anchor="middle">12640</text>
<line x1="2604.4" y1="516" x2="3166" y2="516" stroke-width="1.25" />
<line x1="2604.4" y1="15" x2="2750" y2="15" stroke-width="1.25" />
<line x1="2619.3" y1="15" x2="2619.3" y2="516" stroke-width="1.25" />
<polygon points="2619.3,15 2624.4,51.5 2619.3,48.03 2614.2,51.5" fill="#000" stroke="none"/>
<polygon points="2619.3,516 2614.2,479.5 2619.3,482.97 2624.4,479.5" fill="#000" stroke="none"/>
<text transform="translate(2601,265) rotate(-90) scale(0.75,1)" font-size="51" text-anchor="middle">2930 max</text>
<line x1="2732.8" y1="526" x2="2732.8" y2="607" stroke-width="1.25" />
<line x1="3095.7" y1="526" x2="3095.7" y2="607" stroke-width="1.25" />
<line x1="2732.8" y1="592.7" x2="3095.7" y2="592.7" stroke-width="1.25" />
<polygon points="2732.8,592.7 2769.3,587.6 2765.83,592.7 2769.3,597.8" fill="#000" stroke="none"/>
<polygon points="3095.7,592.7 3059.2,597.8 3062.67,592.7 3059.2,587.6" fill="#000" stroke="none"/>
<text transform="translate(2914.3,576) rotate(0) scale(0.85,1)" font-size="51" text-anchor="middle">2090</text>
<line x1="296.8" y1="1279" x2="296.8" y2="1379" stroke-width="1.25" />
<line x1="2473.4" y1="1279" x2="2473.4" y2="1379" stroke-width="1.25" />
<line x1="296.8" y1="1364.8" x2="2473.4" y2="1364.8" stroke-width="1.25" />
<polygon points="296.8,1364.8 333.3,1359.7 329.83,1364.8 333.3,1369.9" fill="#000" stroke="none"/>
<polygon points="2473.4,1364.8 2436.9,1369.9 2440.37,1364.8 2436.9,1359.7" fill="#000" stroke="none"/>
<text transform="translate(1385,1348) rotate(0) scale(0.75,1)" font-size="51" text-anchor="middle">12292</text>
<line x1="2404.6" y1="840" x2="2404.6" y2="1268.4" stroke-width="1.25" />
<polygon points="2404.6,840 2409.7,876.5 2404.6,873.03 2399.5,876.5" fill="#000" stroke="none"/>
<polygon points="2404.6,1268.4 2399.5,1231.9 2404.6,1235.37 2409.7,1231.9" fill="#000" stroke="none"/>
<text transform="translate(2387,1054.7) rotate(-90) scale(0.86,1)" font-size="51" text-anchor="middle">2470</text>
<line x1="2481" y1="829" x2="2619.7" y2="829" stroke-width="1.25" />
<line x1="2481" y1="1278.8" x2="2619.7" y2="1278.8" stroke-width="1.25" />
<line x1="2604.3" y1="829" x2="2604.3" y2="1278.8" stroke-width="1.25" />
<polygon points="2604.3,829 2609.4,865.5 2604.3,862.03 2599.2,865.5" fill="#000" stroke="none"/>
<polygon points="2604.3,1278.8 2599.2,1242.3 2604.3,1245.77 2609.4,1242.3" fill="#000" stroke="none"/>
<text transform="translate(2588,1055.5) rotate(-90) scale(0.75,1)" font-size="51" text-anchor="middle">2550 max</text>
<line x1="10.4" y1="786.4" x2="230.7" y2="786.4" stroke-width="1.25" />
<line x1="230.7" y1="786.4" x2="537.6" y2="1053.9" stroke-width="1.25" />
<polygon points="282.55,831.6 313.42,851.74 307.45,853.3 306.71,859.43" fill="#000" stroke="none"/>
<text transform="translate(26,769) rotate(0) scale(0.706,1)" font-size="51" text-anchor="start">R1910 max</text>
<line x1="1022.6" y1="786" x2="1245.6" y2="786" stroke-width="1.25" />
<line x1="1022.6" y1="786" x2="537.6" y2="1053.9" stroke-width="1.25" />
<polygon points="910.9,847.8 881.42,869.91 881.99,863.77 876.48,860.98" fill="#000" stroke="none"/>
<text transform="translate(1037,769) rotate(0) scale(0.765,1)" font-size="51" text-anchor="start">R2400 min</text>
<path d="M403.7,743.23 A338.3,338.3 0 0 0 403.7,1364.57" stroke-width="1.25" fill="none" />
<path d="M829,742.61 A426.4,426.4 0 0 1 829,1365.19" stroke-width="1.25" fill="none" />
<circle cx="1224" cy="956.8" r="110.9" stroke-width="1.25" fill="none" stroke-dasharray="22 7"/>
<line x1="252.8" y1="1053.9" x2="2493.7" y2="1053.9" stroke-width="1.25" stroke-dasharray="157.7 10 12 10" stroke-dashoffset="2.5"/>
</g>
</svg>
</body></html>
